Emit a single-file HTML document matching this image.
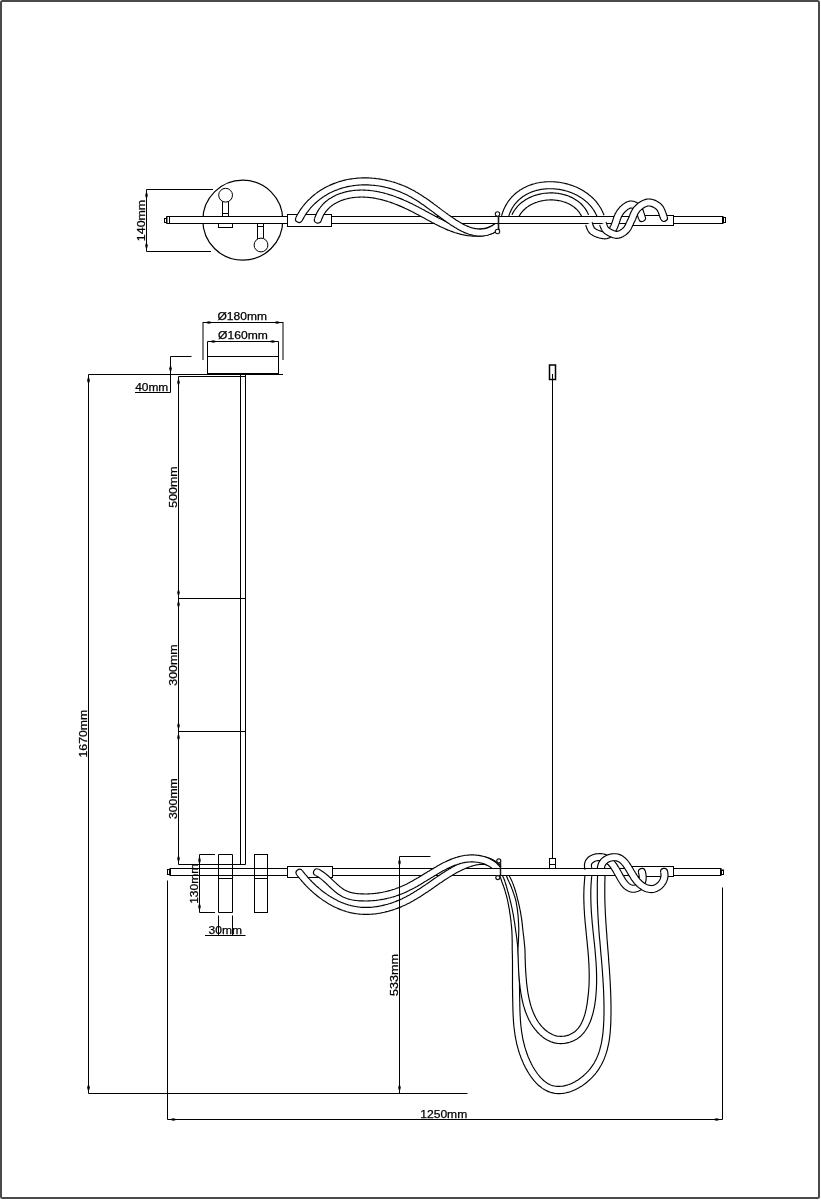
<!DOCTYPE html>
<html><head><meta charset="utf-8">
<style>
html,body{margin:0;padding:0;background:#fff;}
body{width:821px;height:1200px;overflow:hidden;}
svg{display:block;}
text{font-family:"Liberation Sans",sans-serif;font-size:11px;fill:#000;stroke:#000;stroke-width:0.25;}
svg{will-change:transform;}
.l{stroke:#000;stroke-width:1;fill:none;}
.r{stroke:#000;stroke-width:1;fill:#fff;}
.a{fill:#000;stroke:none;}
</style></head>
<body>
<svg width="821" height="1200" viewBox="0 0 821 1200">
<rect x="1" y="1" width="818" height="1197" rx="1.5" fill="none" stroke="#4a4a4a" stroke-width="2"/>

<!-- ============ TOP VIEW ============ -->
<g id="top">
  <!-- 140mm dim -->
  <path class="l" d="M146.5 189.5H213 M146.5 251.5H211 M146.5 189.5V251.5"/>
  <path class="a" d="M146.5 190.5l-1.3 5 1.3 4 1.3 -4z M146.5 250.5l-1.3 -5 1.3 -4 1.3 4z"/>
  <text transform="translate(145.4 220.5) rotate(-90)" text-anchor="middle" textLength="41.3" lengthAdjust="spacingAndGlyphs">140mm</text>

  <!-- canopy circle -->
  <circle class="l" cx="242.8" cy="220.2" r="40" style="stroke-width:1.2"/>
  <!-- top pin -->
  <rect class="r" x="222.5" y="201" width="6" height="15.5"/>
  <path class="l" d="M222.5 213.5H228.5"/>
  <circle class="r" cx="225.6" cy="195.2" r="6.9"/>
  <rect class="r" x="218.5" y="223.5" width="14" height="4"/>
  <!-- bottom pin -->
  <rect class="r" x="257.5" y="223.5" width="6" height="15"/>
  <path class="l" d="M257.5 226.5H263.5"/>
  <circle class="r" cx="261" cy="245" r="6.9"/>

  <polygon points="508.3,217.7 508.7,216.4 509.1,215.1 509.5,213.9 510.0,212.7 510.5,211.6 511.0,210.5 511.6,209.4 512.1,208.3 512.7,207.3 513.4,206.3 514.0,205.4 514.7,204.4 515.4,203.5 516.2,202.6 516.9,201.8 517.7,201.0 518.5,200.2 519.4,199.4 520.2,198.7 521.1,198.0 522.0,197.3 522.9,196.6 523.9,196.0 524.8,195.4 525.8,194.8 526.8,194.2 527.8,193.7 528.8,193.2 529.9,192.7 530.9,192.3 532.0,191.9 533.1,191.5 534.2,191.1 535.3,190.8 536.4,190.4 537.6,190.2 538.7,189.9 539.9,189.7 541.1,189.4 542.2,189.3 543.4,189.1 544.6,189.0 545.8,188.9 547.0,188.8 548.2,188.7 549.4,188.7 550.7,188.7 551.9,188.7 553.1,188.8 554.3,188.9 555.5,189.0 556.7,189.1 558.0,189.2 559.2,189.4 560.4,189.6 561.6,189.8 562.8,190.1 564.0,190.4 565.2,190.7 566.3,191.0 567.5,191.3 568.7,191.7 569.8,192.1 571.0,192.5 572.1,193.0 573.2,193.5 574.3,194.0 575.4,194.5 576.5,195.0 577.5,195.6 578.6,196.2 579.6,196.8 580.6,197.4 581.6,198.1 582.6,198.7 583.6,199.4 584.5,200.2 585.4,200.9 586.3,201.7 587.2,202.4 588.0,203.2 588.8,204.1 589.6,204.9 590.4,205.8 591.2,206.7 591.9,207.6 592.6,208.5 593.2,209.5 593.9,210.4 594.5,211.4 595.1,212.4 595.6,213.5 596.2,214.5 596.6,215.6 597.1,216.7 597.6,217.8 604.1,215.3 603.6,214.1 603.0,212.8 602.5,211.5 601.8,210.3 601.2,209.0 600.5,207.8 599.8,206.7 599.0,205.5 598.2,204.4 597.4,203.3 596.6,202.2 595.7,201.2 594.8,200.2 593.9,199.2 592.9,198.2 591.9,197.3 590.9,196.4 589.9,195.5 588.8,194.7 587.8,193.8 586.7,193.0 585.5,192.3 584.4,191.5 583.3,190.8 582.1,190.1 580.9,189.4 579.7,188.8 578.5,188.2 577.3,187.6 576.0,187.0 574.7,186.5 573.5,186.0 572.2,185.5 570.9,185.1 569.6,184.7 568.3,184.3 567.0,183.9 565.6,183.6 564.3,183.3 563.0,183.0 561.6,182.7 560.3,182.5 558.9,182.3 557.5,182.1 556.2,182.0 554.8,181.9 553.5,181.8 552.1,181.7 550.7,181.7 549.4,181.7 548.0,181.7 546.6,181.8 545.3,181.9 543.9,182.0 542.6,182.2 541.2,182.3 539.9,182.5 538.6,182.8 537.3,183.0 535.9,183.3 534.6,183.7 533.4,184.0 532.1,184.4 530.8,184.9 529.5,185.3 528.3,185.8 527.1,186.3 525.8,186.9 524.6,187.5 523.5,188.1 522.3,188.7 521.2,189.4 520.0,190.1 518.9,190.9 517.8,191.6 516.8,192.5 515.7,193.3 514.7,194.2 513.7,195.1 512.7,196.1 511.8,197.0 510.9,198.1 510.0,199.1 509.2,200.2 508.3,201.3 507.5,202.5 506.8,203.7 506.1,204.9 505.4,206.1 504.7,207.4 504.1,208.7 503.5,210.1 503.0,211.5 502.5,212.9 502.0,214.3 501.6,215.8" fill="#fff" stroke="none"/><path d="M508.3,217.7 L508.7,216.4 L509.1,215.1 L509.5,213.9 L510.0,212.7 L510.5,211.6 L511.0,210.5 L511.6,209.4 L512.1,208.3 L512.7,207.3 L513.4,206.3 L514.0,205.4 L514.7,204.4 L515.4,203.5 L516.2,202.6 L516.9,201.8 L517.7,201.0 L518.5,200.2 L519.4,199.4 L520.2,198.7 L521.1,198.0 L522.0,197.3 L522.9,196.6 L523.9,196.0 L524.8,195.4 L525.8,194.8 L526.8,194.2 L527.8,193.7 L528.8,193.2 L529.9,192.7 L530.9,192.3 L532.0,191.9 L533.1,191.5 L534.2,191.1 L535.3,190.8 L536.4,190.4 L537.6,190.2 L538.7,189.9 L539.9,189.7 L541.1,189.4 L542.2,189.3 L543.4,189.1 L544.6,189.0 L545.8,188.9 L547.0,188.8 L548.2,188.7 L549.4,188.7 L550.7,188.7 L551.9,188.7 L553.1,188.8 L554.3,188.9 L555.5,189.0 L556.7,189.1 L558.0,189.2 L559.2,189.4 L560.4,189.6 L561.6,189.8 L562.8,190.1 L564.0,190.4 L565.2,190.7 L566.3,191.0 L567.5,191.3 L568.7,191.7 L569.8,192.1 L571.0,192.5 L572.1,193.0 L573.2,193.5 L574.3,194.0 L575.4,194.5 L576.5,195.0 L577.5,195.6 L578.6,196.2 L579.6,196.8 L580.6,197.4 L581.6,198.1 L582.6,198.7 L583.6,199.4 L584.5,200.2 L585.4,200.9 L586.3,201.7 L587.2,202.4 L588.0,203.2 L588.8,204.1 L589.6,204.9 L590.4,205.8 L591.2,206.7 L591.9,207.6 L592.6,208.5 L593.2,209.5 L593.9,210.4 L594.5,211.4 L595.1,212.4 L595.6,213.5 L596.2,214.5 L596.6,215.6 L597.1,216.7 L597.6,217.8" fill="none" stroke="#000" stroke-width="1.15"/><path d="M501.6,215.8 L502.0,214.3 L502.5,212.9 L503.0,211.5 L503.5,210.1 L504.1,208.7 L504.7,207.4 L505.4,206.1 L506.1,204.9 L506.8,203.7 L507.5,202.5 L508.3,201.3 L509.2,200.2 L510.0,199.1 L510.9,198.1 L511.8,197.0 L512.7,196.1 L513.7,195.1 L514.7,194.2 L515.7,193.3 L516.8,192.5 L517.8,191.6 L518.9,190.9 L520.0,190.1 L521.2,189.4 L522.3,188.7 L523.5,188.1 L524.6,187.5 L525.8,186.9 L527.1,186.3 L528.3,185.8 L529.5,185.3 L530.8,184.9 L532.1,184.4 L533.4,184.0 L534.6,183.7 L535.9,183.3 L537.3,183.0 L538.6,182.8 L539.9,182.5 L541.2,182.3 L542.6,182.2 L543.9,182.0 L545.3,181.9 L546.6,181.8 L548.0,181.7 L549.4,181.7 L550.7,181.7 L552.1,181.7 L553.5,181.8 L554.8,181.9 L556.2,182.0 L557.5,182.1 L558.9,182.3 L560.3,182.5 L561.6,182.7 L563.0,183.0 L564.3,183.3 L565.6,183.6 L567.0,183.9 L568.3,184.3 L569.6,184.7 L570.9,185.1 L572.2,185.5 L573.5,186.0 L574.7,186.5 L576.0,187.0 L577.3,187.6 L578.5,188.2 L579.7,188.8 L580.9,189.4 L582.1,190.1 L583.3,190.8 L584.4,191.5 L585.5,192.3 L586.7,193.0 L587.8,193.8 L588.8,194.7 L589.9,195.5 L590.9,196.4 L591.9,197.3 L592.9,198.2 L593.9,199.2 L594.8,200.2 L595.7,201.2 L596.6,202.2 L597.4,203.3 L598.2,204.4 L599.0,205.5 L599.8,206.7 L600.5,207.8 L601.2,209.0 L601.8,210.3 L602.5,211.5 L603.0,212.8 L603.6,214.1 L604.1,215.3" fill="none" stroke="#000" stroke-width="1.15"/><polygon points="518.3,217.9 518.8,216.8 519.3,215.8 519.9,214.9 520.5,213.9 521.1,213.0 521.8,212.2 522.5,211.3 523.3,210.5 524.1,209.7 524.9,209.0 525.7,208.2 526.6,207.5 527.5,206.9 528.5,206.2 529.4,205.6 530.4,205.0 531.4,204.5 532.5,204.0 533.5,203.5 534.6,203.0 535.7,202.6 536.9,202.2 538.0,201.8 539.1,201.5 540.3,201.2 541.5,200.9 542.7,200.7 543.9,200.5 545.1,200.3 546.3,200.1 547.5,200.0 548.8,200.0 550.0,199.9 551.2,199.9 552.4,199.9 553.7,200.0 554.9,200.1 556.1,200.2 557.3,200.4 558.5,200.6 559.7,200.8 560.8,201.0 562.0,201.3 563.1,201.7 564.3,202.0 565.4,202.4 566.4,202.8 567.5,203.3 568.6,203.7 569.6,204.2 570.6,204.8 571.5,205.4 572.5,206.0 573.4,206.6 574.3,207.3 575.1,208.0 575.9,208.7 576.7,209.4 577.5,210.2 578.2,211.0 578.9,211.9 579.5,212.8 580.1,213.7 580.7,214.6 581.2,215.6 581.7,216.6 582.2,217.7 588.6,214.9 588.1,213.7 587.4,212.4 586.8,211.1 586.0,209.9 585.2,208.7 584.4,207.6 583.5,206.5 582.6,205.5 581.7,204.5 580.7,203.5 579.7,202.6 578.6,201.8 577.5,200.9 576.4,200.2 575.2,199.4 574.0,198.7 572.8,198.0 571.6,197.4 570.3,196.9 569.1,196.3 567.8,195.8 566.5,195.4 565.1,194.9 563.8,194.6 562.4,194.2 561.1,193.9 559.7,193.7 558.3,193.4 556.9,193.3 555.5,193.1 554.1,193.0 552.7,192.9 551.3,192.9 549.9,192.9 548.4,193.0 547.0,193.1 545.6,193.2 544.2,193.3 542.8,193.5 541.4,193.8 540.0,194.1 538.7,194.4 537.3,194.7 536.0,195.1 534.6,195.5 533.3,196.0 532.0,196.5 530.7,197.1 529.4,197.6 528.2,198.3 527.0,198.9 525.8,199.6 524.6,200.4 523.5,201.2 522.3,202.0 521.3,202.8 520.2,203.7 519.2,204.7 518.2,205.7 517.3,206.7 516.4,207.8 515.5,208.9 514.7,210.0 513.9,211.2 513.2,212.4 512.5,213.7 512.0,214.9" fill="#fff" stroke="none"/><path d="M518.3,217.9 L518.8,216.8 L519.3,215.8 L519.9,214.9 L520.5,213.9 L521.1,213.0 L521.8,212.2 L522.5,211.3 L523.3,210.5 L524.1,209.7 L524.9,209.0 L525.7,208.2 L526.6,207.5 L527.5,206.9 L528.5,206.2 L529.4,205.6 L530.4,205.0 L531.4,204.5 L532.5,204.0 L533.5,203.5 L534.6,203.0 L535.7,202.6 L536.9,202.2 L538.0,201.8 L539.1,201.5 L540.3,201.2 L541.5,200.9 L542.7,200.7 L543.9,200.5 L545.1,200.3 L546.3,200.1 L547.5,200.0 L548.8,200.0 L550.0,199.9 L551.2,199.9 L552.4,199.9 L553.7,200.0 L554.9,200.1 L556.1,200.2 L557.3,200.4 L558.5,200.6 L559.7,200.8 L560.8,201.0 L562.0,201.3 L563.1,201.7 L564.3,202.0 L565.4,202.4 L566.4,202.8 L567.5,203.3 L568.6,203.7 L569.6,204.2 L570.6,204.8 L571.5,205.4 L572.5,206.0 L573.4,206.6 L574.3,207.3 L575.1,208.0 L575.9,208.7 L576.7,209.4 L577.5,210.2 L578.2,211.0 L578.9,211.9 L579.5,212.8 L580.1,213.7 L580.7,214.6 L581.2,215.6 L581.7,216.6 L582.2,217.7" fill="none" stroke="#000" stroke-width="1.15"/><path d="M512.0,214.9 L512.5,213.7 L513.2,212.4 L513.9,211.2 L514.7,210.0 L515.5,208.9 L516.4,207.8 L517.3,206.7 L518.2,205.7 L519.2,204.7 L520.2,203.7 L521.3,202.8 L522.3,202.0 L523.5,201.2 L524.6,200.4 L525.8,199.6 L527.0,198.9 L528.2,198.3 L529.4,197.6 L530.7,197.1 L532.0,196.5 L533.3,196.0 L534.6,195.5 L536.0,195.1 L537.3,194.7 L538.7,194.4 L540.0,194.1 L541.4,193.8 L542.8,193.5 L544.2,193.3 L545.6,193.2 L547.0,193.1 L548.4,193.0 L549.9,192.9 L551.3,192.9 L552.7,192.9 L554.1,193.0 L555.5,193.1 L556.9,193.3 L558.3,193.4 L559.7,193.7 L561.1,193.9 L562.4,194.2 L563.8,194.6 L565.1,194.9 L566.5,195.4 L567.8,195.8 L569.1,196.3 L570.3,196.9 L571.6,197.4 L572.8,198.0 L574.0,198.7 L575.2,199.4 L576.4,200.2 L577.5,200.9 L578.6,201.8 L579.7,202.6 L580.7,203.5 L581.7,204.5 L582.6,205.5 L583.5,206.5 L584.4,207.6 L585.2,208.7 L586.0,209.9 L586.8,211.1 L587.4,212.4 L588.1,213.7 L588.6,214.9" fill="none" stroke="#000" stroke-width="1.15"/>
  <!-- rod -->
  <rect class="r" x="167" y="216.5" width="555.5" height="7"/>
  <path class="l" d="M166.5 216.5V223.5 M169.5 216.5V223.5 M723.5 216.5V223.5"/>
  <rect class="r" x="164.5" y="218.5" width="2" height="4"/>
  <rect class="r" x="723.5" y="217.5" width="2" height="5"/>
  <!-- mounts -->
  <rect class="r" x="287.5" y="214.5" width="44" height="12"/>
  <rect class="r" x="632.5" y="215.5" width="41" height="10"/>
  <polygon points="321.2,220.7 321.6,219.5 322.1,218.3 322.6,217.2 323.1,216.1 323.6,215.0 324.2,214.0 324.9,213.0 325.5,212.1 326.2,211.2 326.9,210.3 327.7,209.5 328.5,208.7 329.3,207.9 330.1,207.1 330.9,206.4 331.8,205.7 332.7,205.1 333.7,204.4 334.6,203.8 335.6,203.3 336.6,202.7 337.6,202.2 338.6,201.7 339.7,201.2 340.7,200.8 341.8,200.4 342.9,200.0 344.0,199.6 345.1,199.3 346.2,199.0 347.3,198.7 348.5,198.4 349.6,198.2 350.7,198.0 351.9,197.8 353.0,197.6 354.1,197.5 355.3,197.3 356.4,197.2 357.6,197.2 358.8,197.1 359.9,197.1 361.1,197.0 362.3,197.0 363.4,197.1 364.6,197.1 365.8,197.2 367.0,197.3 368.1,197.4 369.3,197.5 370.5,197.6 371.7,197.8 372.9,197.9 374.1,198.1 375.3,198.3 376.4,198.6 377.6,198.8 378.8,199.1 380.0,199.3 381.2,199.6 382.4,199.9 383.6,200.2 384.8,200.6 386.0,200.9 387.2,201.3 388.4,201.7 389.6,202.0 390.7,202.4 391.9,202.9 393.1,203.3 394.3,203.7 395.5,204.2 396.7,204.6 397.8,205.1 399.0,205.6 400.2,206.1 401.4,206.6 402.5,207.1 403.7,207.6 404.8,208.2 406.0,208.7 407.2,209.2 408.3,209.8 409.4,210.4 410.6,210.9 411.7,211.5 412.9,212.1 414.0,212.7 415.1,213.3 416.3,213.9 417.4,214.5 418.5,215.1 419.6,215.7 420.8,216.3 421.9,216.9 423.0,217.5 424.1,218.1 425.3,218.7 426.4,219.4 427.5,220.0 428.6,220.6 429.8,221.2 430.9,221.8 432.0,222.4 433.2,223.0 434.3,223.6 435.4,224.2 436.6,224.7 437.7,225.3 438.8,225.9 440.0,226.4 441.1,227.0 442.3,227.5 443.4,228.0 444.6,228.6 445.7,229.1 446.9,229.6 448.1,230.1 449.3,230.5 450.4,231.0 451.6,231.4 452.8,231.9 454.0,232.3 455.2,232.7 456.4,233.0 457.6,233.4 458.9,233.7 460.1,234.1 461.3,234.4 462.6,234.7 463.8,234.9 465.1,235.2 466.3,235.4 467.6,235.6 468.9,235.7 470.2,235.9 471.5,236.0 472.8,236.1 474.1,236.2 475.4,236.2 476.7,236.2 478.1,236.2 479.4,236.1 480.7,236.0 482.1,235.9 483.4,235.7 484.8,235.5 486.1,235.2 487.5,234.9 488.9,234.5 490.2,234.1 491.6,233.6 492.9,233.1 494.2,232.5 495.6,231.9 496.9,231.2 498.1,230.4 494.7,224.4 493.5,225.0 492.4,225.6 491.3,226.1 490.2,226.6 489.1,227.0 488.0,227.4 486.9,227.8 485.8,228.1 484.6,228.3 483.5,228.6 482.4,228.8 481.2,228.9 480.1,229.0 478.9,229.1 477.8,229.2 476.6,229.2 475.5,229.2 474.3,229.2 473.2,229.1 472.0,229.0 470.9,228.9 469.7,228.8 468.6,228.6 467.5,228.5 466.3,228.3 465.2,228.1 464.1,227.8 462.9,227.6 461.8,227.3 460.7,227.0 459.6,226.7 458.5,226.3 457.4,226.0 456.2,225.6 455.1,225.2 454.0,224.8 452.9,224.4 451.8,224.0 450.7,223.6 449.6,223.1 448.5,222.6 447.4,222.2 446.3,221.7 445.2,221.2 444.1,220.7 443.0,220.1 441.9,219.6 440.8,219.0 439.7,218.5 438.6,217.9 437.5,217.4 436.4,216.8 435.3,216.2 434.2,215.6 433.1,215.0 432.0,214.4 430.9,213.8 429.7,213.2 428.6,212.6 427.5,212.0 426.4,211.4 425.2,210.8 424.1,210.1 423.0,209.5 421.8,208.9 420.7,208.3 419.5,207.7 418.4,207.1 417.2,206.5 416.1,205.9 414.9,205.3 413.7,204.7 412.6,204.1 411.4,203.5 410.2,202.9 409.0,202.4 407.8,201.8 406.6,201.2 405.4,200.7 404.1,200.2 402.9,199.6 401.7,199.1 400.5,198.6 399.2,198.1 398.0,197.6 396.8,197.2 395.5,196.7 394.3,196.3 393.0,195.8 391.8,195.4 390.5,195.0 389.2,194.6 388.0,194.2 386.7,193.8 385.4,193.5 384.2,193.1 382.9,192.8 381.6,192.5 380.3,192.2 379.1,191.9 377.8,191.7 376.5,191.4 375.2,191.2 373.9,191.0 372.6,190.8 371.4,190.7 370.1,190.5 368.8,190.4 367.5,190.3 366.2,190.2 364.9,190.1 363.6,190.1 362.3,190.0 361.0,190.0 359.7,190.1 358.5,190.1 357.2,190.2 355.9,190.3 354.6,190.4 353.3,190.5 352.0,190.7 350.8,190.9 349.5,191.1 348.2,191.3 346.9,191.6 345.7,191.9 344.4,192.2 343.1,192.6 341.9,193.0 340.6,193.4 339.4,193.8 338.1,194.3 336.9,194.8 335.7,195.3 334.5,195.9 333.3,196.5 332.1,197.2 331.0,197.9 329.8,198.6 328.7,199.3 327.6,200.1 326.6,201.0 325.5,201.8 324.5,202.8 323.5,203.7 322.5,204.7 321.6,205.8 320.7,206.8 319.9,208.0 319.0,209.1 318.3,210.4 317.5,211.6 316.8,212.9 316.2,214.3 315.6,215.7 315.0,217.1 314.6,218.5" fill="#fff" stroke="none"/><path d="M321.2,220.7 L321.6,219.5 L322.1,218.3 L322.6,217.2 L323.1,216.1 L323.6,215.0 L324.2,214.0 L324.9,213.0 L325.5,212.1 L326.2,211.2 L326.9,210.3 L327.7,209.5 L328.5,208.7 L329.3,207.9 L330.1,207.1 L330.9,206.4 L331.8,205.7 L332.7,205.1 L333.7,204.4 L334.6,203.8 L335.6,203.3 L336.6,202.7 L337.6,202.2 L338.6,201.7 L339.7,201.2 L340.7,200.8 L341.8,200.4 L342.9,200.0 L344.0,199.6 L345.1,199.3 L346.2,199.0 L347.3,198.7 L348.5,198.4 L349.6,198.2 L350.7,198.0 L351.9,197.8 L353.0,197.6 L354.1,197.5 L355.3,197.3 L356.4,197.2 L357.6,197.2 L358.8,197.1 L359.9,197.1 L361.1,197.0 L362.3,197.0 L363.4,197.1 L364.6,197.1 L365.8,197.2 L367.0,197.3 L368.1,197.4 L369.3,197.5 L370.5,197.6 L371.7,197.8 L372.9,197.9 L374.1,198.1 L375.3,198.3 L376.4,198.6 L377.6,198.8 L378.8,199.1 L380.0,199.3 L381.2,199.6 L382.4,199.9 L383.6,200.2 L384.8,200.6 L386.0,200.9 L387.2,201.3 L388.4,201.7 L389.6,202.0 L390.7,202.4 L391.9,202.9 L393.1,203.3 L394.3,203.7 L395.5,204.2 L396.7,204.6 L397.8,205.1 L399.0,205.6 L400.2,206.1 L401.4,206.6 L402.5,207.1 L403.7,207.6 L404.8,208.2 L406.0,208.7 L407.2,209.2 L408.3,209.8 L409.4,210.4 L410.6,210.9 L411.7,211.5 L412.9,212.1 L414.0,212.7 L415.1,213.3 L416.3,213.9 L417.4,214.5 L418.5,215.1 L419.6,215.7 L420.8,216.3 L421.9,216.9 L423.0,217.5 L424.1,218.1 L425.3,218.7 L426.4,219.4 L427.5,220.0 L428.6,220.6 L429.8,221.2 L430.9,221.8 L432.0,222.4 L433.2,223.0 L434.3,223.6 L435.4,224.2 L436.6,224.7 L437.7,225.3 L438.8,225.9 L440.0,226.4 L441.1,227.0 L442.3,227.5 L443.4,228.0 L444.6,228.6 L445.7,229.1 L446.9,229.6 L448.1,230.1 L449.3,230.5 L450.4,231.0 L451.6,231.4 L452.8,231.9 L454.0,232.3 L455.2,232.7 L456.4,233.0 L457.6,233.4 L458.9,233.7 L460.1,234.1 L461.3,234.4 L462.6,234.7 L463.8,234.9 L465.1,235.2 L466.3,235.4 L467.6,235.6 L468.9,235.7 L470.2,235.9 L471.5,236.0 L472.8,236.1 L474.1,236.2 L475.4,236.2 L476.7,236.2 L478.1,236.2 L479.4,236.1 L480.7,236.0 L482.1,235.9 L483.4,235.7 L484.8,235.5 L486.1,235.2 L487.5,234.9 L488.9,234.5 L490.2,234.1 L491.6,233.6 L492.9,233.1 L494.2,232.5 L495.6,231.9 L496.9,231.2 L498.1,230.4" fill="none" stroke="#000" stroke-width="1.15"/><path d="M314.6,218.5 L315.0,217.1 L315.6,215.7 L316.2,214.3 L316.8,212.9 L317.5,211.6 L318.3,210.4 L319.0,209.1 L319.9,208.0 L320.7,206.8 L321.6,205.8 L322.5,204.7 L323.5,203.7 L324.5,202.8 L325.5,201.8 L326.6,201.0 L327.6,200.1 L328.7,199.3 L329.8,198.6 L331.0,197.9 L332.1,197.2 L333.3,196.5 L334.5,195.9 L335.7,195.3 L336.9,194.8 L338.1,194.3 L339.4,193.8 L340.6,193.4 L341.9,193.0 L343.1,192.6 L344.4,192.2 L345.7,191.9 L346.9,191.6 L348.2,191.3 L349.5,191.1 L350.8,190.9 L352.0,190.7 L353.3,190.5 L354.6,190.4 L355.9,190.3 L357.2,190.2 L358.5,190.1 L359.7,190.1 L361.0,190.0 L362.3,190.0 L363.6,190.1 L364.9,190.1 L366.2,190.2 L367.5,190.3 L368.8,190.4 L370.1,190.5 L371.4,190.7 L372.6,190.8 L373.9,191.0 L375.2,191.2 L376.5,191.4 L377.8,191.7 L379.1,191.9 L380.3,192.2 L381.6,192.5 L382.9,192.8 L384.2,193.1 L385.4,193.5 L386.7,193.8 L388.0,194.2 L389.2,194.6 L390.5,195.0 L391.8,195.4 L393.0,195.8 L394.3,196.3 L395.5,196.7 L396.8,197.2 L398.0,197.6 L399.2,198.1 L400.5,198.6 L401.7,199.1 L402.9,199.6 L404.1,200.2 L405.4,200.7 L406.6,201.2 L407.8,201.8 L409.0,202.4 L410.2,202.9 L411.4,203.5 L412.6,204.1 L413.7,204.7 L414.9,205.3 L416.1,205.9 L417.2,206.5 L418.4,207.1 L419.5,207.7 L420.7,208.3 L421.8,208.9 L423.0,209.5 L424.1,210.1 L425.2,210.8 L426.4,211.4 L427.5,212.0 L428.6,212.6 L429.7,213.2 L430.9,213.8 L432.0,214.4 L433.1,215.0 L434.2,215.6 L435.3,216.2 L436.4,216.8 L437.5,217.4 L438.6,217.9 L439.7,218.5 L440.8,219.0 L441.9,219.6 L443.0,220.1 L444.1,220.7 L445.2,221.2 L446.3,221.7 L447.4,222.2 L448.5,222.6 L449.6,223.1 L450.7,223.6 L451.8,224.0 L452.9,224.4 L454.0,224.8 L455.1,225.2 L456.2,225.6 L457.4,226.0 L458.5,226.3 L459.6,226.7 L460.7,227.0 L461.8,227.3 L462.9,227.6 L464.1,227.8 L465.2,228.1 L466.3,228.3 L467.5,228.5 L468.6,228.6 L469.7,228.8 L470.9,228.9 L472.0,229.0 L473.2,229.1 L474.3,229.2 L475.5,229.2 L476.6,229.2 L477.8,229.2 L478.9,229.1 L480.1,229.0 L481.2,228.9 L482.4,228.8 L483.5,228.6 L484.6,228.3 L485.8,228.1 L486.9,227.8 L488.0,227.4 L489.1,227.0 L490.2,226.6 L491.3,226.1 L492.4,225.6 L493.5,225.0 L494.7,224.4" fill="none" stroke="#000" stroke-width="1.15"/><path d="M321.19 220.75 A3.50 3.50 0 0 1 314.56 218.50 Z" fill="#fff" stroke="none"/><path d="M321.19 220.75 A3.50 3.50 0 0 1 314.56 218.50" fill="none" stroke="#000" stroke-width="1.15"/><polygon points="302.2,220.6 302.8,219.5 303.4,218.4 304.0,217.3 304.6,216.3 305.2,215.2 305.9,214.2 306.6,213.2 307.3,212.2 308.0,211.3 308.7,210.3 309.5,209.4 310.2,208.5 311.0,207.5 311.8,206.7 312.6,205.8 313.5,204.9 314.3,204.1 315.2,203.3 316.1,202.5 317.0,201.7 317.9,200.9 318.8,200.2 319.7,199.4 320.7,198.7 321.7,198.0 322.6,197.3 323.6,196.7 324.6,196.0 325.6,195.4 326.7,194.8 327.7,194.2 328.7,193.6 329.8,193.0 330.9,192.5 331.9,192.0 333.0,191.5 334.1,191.0 335.2,190.5 336.3,190.1 337.4,189.7 338.5,189.2 339.7,188.9 340.8,188.5 341.9,188.1 343.1,187.8 344.2,187.5 345.4,187.2 346.6,186.9 347.7,186.6 348.9,186.4 350.1,186.2 351.3,186.0 352.5,185.8 353.6,185.6 354.8,185.5 356.0,185.3 357.2,185.2 358.5,185.1 359.7,185.0 360.9,185.0 362.1,184.9 363.3,184.9 364.5,184.9 365.7,184.9 366.9,184.9 368.2,184.9 369.4,185.0 370.6,185.1 371.8,185.2 373.0,185.3 374.3,185.4 375.5,185.5 376.7,185.7 377.9,185.8 379.1,186.0 380.3,186.2 381.6,186.4 382.8,186.7 384.0,186.9 385.2,187.2 386.4,187.5 387.6,187.8 388.7,188.1 389.9,188.4 391.1,188.7 392.3,189.1 393.5,189.5 394.6,189.9 395.8,190.3 397.0,190.7 398.1,191.1 399.3,191.5 400.4,192.0 401.5,192.5 402.6,193.0 403.8,193.5 404.9,194.0 406.0,194.5 407.1,195.0 408.1,195.6 409.2,196.2 410.3,196.7 411.4,197.3 412.4,197.9 413.5,198.6 414.5,199.2 415.6,199.8 416.6,200.5 417.6,201.1 418.7,201.8 419.7,202.5 420.7,203.2 421.7,203.9 422.8,204.6 423.8,205.3 424.8,206.0 425.8,206.7 426.8,207.5 427.8,208.2 428.8,208.9 429.8,209.7 430.9,210.4 431.9,211.2 432.9,211.9 433.9,212.7 434.9,213.5 435.9,214.2 436.9,215.0 438.0,215.7 439.0,216.5 440.0,217.2 441.0,218.0 442.1,218.8 443.1,219.5 444.1,220.3 445.2,221.0 446.2,221.7 447.3,222.5 448.4,223.2 449.4,223.9 450.5,224.7 451.6,225.4 452.7,226.1 453.8,226.8 454.9,227.5 456.0,228.1 457.1,228.8 458.3,229.4 459.4,230.1 460.6,230.7 461.7,231.3 462.9,231.8 464.1,232.4 465.3,232.9 466.5,233.3 467.8,233.8 469.0,234.2 470.3,234.6 471.5,234.9 472.8,235.2 474.1,235.5 475.4,235.7 476.7,235.9 478.0,236.0 479.4,236.1 480.7,236.1 482.1,236.0 483.4,235.9 484.8,235.7 486.1,235.5 487.5,235.2 488.9,234.8 490.2,234.3 491.6,233.8 493.0,233.2 494.3,232.5 495.7,231.7 497.0,230.9 498.3,230.0 499.6,229.0 495.4,223.4 494.2,224.3 493.1,225.0 492.1,225.7 491.0,226.3 489.9,226.9 488.9,227.3 487.8,227.7 486.8,228.1 485.8,228.4 484.7,228.6 483.7,228.8 482.6,228.9 481.6,229.0 480.6,229.1 479.5,229.1 478.5,229.0 477.5,228.9 476.4,228.8 475.4,228.6 474.3,228.4 473.3,228.2 472.2,227.9 471.2,227.6 470.1,227.2 469.0,226.8 468.0,226.4 466.9,225.9 465.9,225.5 464.8,225.0 463.8,224.4 462.7,223.9 461.7,223.3 460.6,222.7 459.6,222.1 458.5,221.5 457.5,220.8 456.4,220.2 455.4,219.5 454.4,218.8 453.3,218.1 452.3,217.4 451.3,216.7 450.3,216.0 449.2,215.3 448.2,214.6 447.2,213.8 446.2,213.1 445.2,212.4 444.2,211.6 443.1,210.9 442.1,210.1 441.1,209.4 440.1,208.6 439.1,207.8 438.1,207.1 437.1,206.3 436.1,205.6 435.0,204.8 434.0,204.1 433.0,203.3 432.0,202.5 430.9,201.8 429.9,201.0 428.9,200.3 427.8,199.6 426.8,198.8 425.7,198.1 424.6,197.4 423.6,196.7 422.5,196.0 421.4,195.3 420.3,194.6 419.3,193.9 418.2,193.2 417.0,192.5 415.9,191.9 414.8,191.2 413.7,190.6 412.5,190.0 411.4,189.4 410.2,188.8 409.0,188.2 407.8,187.6 406.7,187.1 405.5,186.6 404.3,186.0 403.0,185.5 401.8,185.0 400.6,184.6 399.4,184.1 398.1,183.7 396.9,183.2 395.6,182.8 394.4,182.4 393.1,182.0 391.8,181.7 390.6,181.3 389.3,181.0 388.0,180.7 386.7,180.4 385.4,180.1 384.1,179.8 382.8,179.6 381.5,179.3 380.2,179.1 378.9,178.9 377.6,178.7 376.3,178.6 375.0,178.4 373.7,178.3 372.4,178.2 371.1,178.1 369.7,178.0 368.4,177.9 367.1,177.9 365.8,177.9 364.5,177.9 363.2,177.9 361.9,177.9 360.5,178.0 359.2,178.0 357.9,178.1 356.6,178.2 355.3,178.4 354.0,178.5 352.7,178.7 351.4,178.9 350.1,179.1 348.8,179.3 347.5,179.5 346.3,179.8 345.0,180.1 343.7,180.4 342.4,180.7 341.2,181.1 339.9,181.4 338.7,181.8 337.4,182.2 336.2,182.7 335.0,183.1 333.7,183.6 332.5,184.1 331.3,184.6 330.1,185.1 328.9,185.7 327.7,186.2 326.6,186.8 325.4,187.4 324.3,188.1 323.1,188.7 322.0,189.4 320.9,190.1 319.8,190.8 318.7,191.6 317.6,192.3 316.5,193.1 315.5,193.9 314.4,194.7 313.4,195.5 312.4,196.4 311.4,197.3 310.4,198.2 309.5,199.1 308.5,200.0 307.6,200.9 306.7,201.9 305.8,202.9 304.9,203.9 304.1,204.9 303.2,206.0 302.4,207.0 301.6,208.1 300.8,209.2 300.0,210.3 299.3,211.5 298.6,212.6 297.9,213.8 297.2,215.0 296.6,216.2 296.0,217.4" fill="#fff" stroke="none"/><path d="M302.2,220.6 L302.8,219.5 L303.4,218.4 L304.0,217.3 L304.6,216.3 L305.2,215.2 L305.9,214.2 L306.6,213.2 L307.3,212.2 L308.0,211.3 L308.7,210.3 L309.5,209.4 L310.2,208.5 L311.0,207.5 L311.8,206.7 L312.6,205.8 L313.5,204.9 L314.3,204.1 L315.2,203.3 L316.1,202.5 L317.0,201.7 L317.9,200.9 L318.8,200.2 L319.7,199.4 L320.7,198.7 L321.7,198.0 L322.6,197.3 L323.6,196.7 L324.6,196.0 L325.6,195.4 L326.7,194.8 L327.7,194.2 L328.7,193.6 L329.8,193.0 L330.9,192.5 L331.9,192.0 L333.0,191.5 L334.1,191.0 L335.2,190.5 L336.3,190.1 L337.4,189.7 L338.5,189.2 L339.7,188.9 L340.8,188.5 L341.9,188.1 L343.1,187.8 L344.2,187.5 L345.4,187.2 L346.6,186.9 L347.7,186.6 L348.9,186.4 L350.1,186.2 L351.3,186.0 L352.5,185.8 L353.6,185.6 L354.8,185.5 L356.0,185.3 L357.2,185.2 L358.5,185.1 L359.7,185.0 L360.9,185.0 L362.1,184.9 L363.3,184.9 L364.5,184.9 L365.7,184.9 L366.9,184.9 L368.2,184.9 L369.4,185.0 L370.6,185.1 L371.8,185.2 L373.0,185.3 L374.3,185.4 L375.5,185.5 L376.7,185.7 L377.9,185.8 L379.1,186.0 L380.3,186.2 L381.6,186.4 L382.8,186.7 L384.0,186.9 L385.2,187.2 L386.4,187.5 L387.6,187.8 L388.7,188.1 L389.9,188.4 L391.1,188.7 L392.3,189.1 L393.5,189.5 L394.6,189.9 L395.8,190.3 L397.0,190.7 L398.1,191.1 L399.3,191.5 L400.4,192.0 L401.5,192.5 L402.6,193.0 L403.8,193.5 L404.9,194.0 L406.0,194.5 L407.1,195.0 L408.1,195.6 L409.2,196.2 L410.3,196.7 L411.4,197.3 L412.4,197.9 L413.5,198.6 L414.5,199.2 L415.6,199.8 L416.6,200.5 L417.6,201.1 L418.7,201.8 L419.7,202.5 L420.7,203.2 L421.7,203.9 L422.8,204.6 L423.8,205.3 L424.8,206.0 L425.8,206.7 L426.8,207.5 L427.8,208.2 L428.8,208.9 L429.8,209.7 L430.9,210.4 L431.9,211.2 L432.9,211.9 L433.9,212.7 L434.9,213.5 L435.9,214.2 L436.9,215.0 L438.0,215.7 L439.0,216.5 L440.0,217.2 L441.0,218.0 L442.1,218.8 L443.1,219.5 L444.1,220.3 L445.2,221.0 L446.2,221.7 L447.3,222.5 L448.4,223.2 L449.4,223.9 L450.5,224.7 L451.6,225.4 L452.7,226.1 L453.8,226.8 L454.9,227.5 L456.0,228.1 L457.1,228.8 L458.3,229.4 L459.4,230.1 L460.6,230.7 L461.7,231.3 L462.9,231.8 L464.1,232.4 L465.3,232.9 L466.5,233.3 L467.8,233.8 L469.0,234.2 L470.3,234.6 L471.5,234.9 L472.8,235.2 L474.1,235.5 L475.4,235.7 L476.7,235.9 L478.0,236.0 L479.4,236.1 L480.7,236.1 L482.1,236.0 L483.4,235.9 L484.8,235.7 L486.1,235.5 L487.5,235.2 L488.9,234.8 L490.2,234.3 L491.6,233.8 L493.0,233.2 L494.3,232.5 L495.7,231.7 L497.0,230.9 L498.3,230.0 L499.6,229.0" fill="none" stroke="#000" stroke-width="1.15"/><path d="M296.0,217.4 L296.6,216.2 L297.2,215.0 L297.9,213.8 L298.6,212.6 L299.3,211.5 L300.0,210.3 L300.8,209.2 L301.6,208.1 L302.4,207.0 L303.2,206.0 L304.1,204.9 L304.9,203.9 L305.8,202.9 L306.7,201.9 L307.6,200.9 L308.5,200.0 L309.5,199.1 L310.4,198.2 L311.4,197.3 L312.4,196.4 L313.4,195.5 L314.4,194.7 L315.5,193.9 L316.5,193.1 L317.6,192.3 L318.7,191.6 L319.8,190.8 L320.9,190.1 L322.0,189.4 L323.1,188.7 L324.3,188.1 L325.4,187.4 L326.6,186.8 L327.7,186.2 L328.9,185.7 L330.1,185.1 L331.3,184.6 L332.5,184.1 L333.7,183.6 L335.0,183.1 L336.2,182.7 L337.4,182.2 L338.7,181.8 L339.9,181.4 L341.2,181.1 L342.4,180.7 L343.7,180.4 L345.0,180.1 L346.3,179.8 L347.5,179.5 L348.8,179.3 L350.1,179.1 L351.4,178.9 L352.7,178.7 L354.0,178.5 L355.3,178.4 L356.6,178.2 L357.9,178.1 L359.2,178.0 L360.5,178.0 L361.9,177.9 L363.2,177.9 L364.5,177.9 L365.8,177.9 L367.1,177.9 L368.4,177.9 L369.7,178.0 L371.1,178.1 L372.4,178.2 L373.7,178.3 L375.0,178.4 L376.3,178.6 L377.6,178.7 L378.9,178.9 L380.2,179.1 L381.5,179.3 L382.8,179.6 L384.1,179.8 L385.4,180.1 L386.7,180.4 L388.0,180.7 L389.3,181.0 L390.6,181.3 L391.8,181.7 L393.1,182.0 L394.4,182.4 L395.6,182.8 L396.9,183.2 L398.1,183.7 L399.4,184.1 L400.6,184.6 L401.8,185.0 L403.0,185.5 L404.3,186.0 L405.5,186.6 L406.7,187.1 L407.8,187.6 L409.0,188.2 L410.2,188.8 L411.4,189.4 L412.5,190.0 L413.7,190.6 L414.8,191.2 L415.9,191.9 L417.0,192.5 L418.2,193.2 L419.3,193.9 L420.3,194.6 L421.4,195.3 L422.5,196.0 L423.6,196.7 L424.6,197.4 L425.7,198.1 L426.8,198.8 L427.8,199.6 L428.9,200.3 L429.9,201.0 L430.9,201.8 L432.0,202.5 L433.0,203.3 L434.0,204.1 L435.0,204.8 L436.1,205.6 L437.1,206.3 L438.1,207.1 L439.1,207.8 L440.1,208.6 L441.1,209.4 L442.1,210.1 L443.1,210.9 L444.2,211.6 L445.2,212.4 L446.2,213.1 L447.2,213.8 L448.2,214.6 L449.2,215.3 L450.3,216.0 L451.3,216.7 L452.3,217.4 L453.3,218.1 L454.4,218.8 L455.4,219.5 L456.4,220.2 L457.5,220.8 L458.5,221.5 L459.6,222.1 L460.6,222.7 L461.7,223.3 L462.7,223.9 L463.8,224.4 L464.8,225.0 L465.9,225.5 L466.9,225.9 L468.0,226.4 L469.0,226.8 L470.1,227.2 L471.2,227.6 L472.2,227.9 L473.3,228.2 L474.3,228.4 L475.4,228.6 L476.4,228.8 L477.5,228.9 L478.5,229.0 L479.5,229.1 L480.6,229.1 L481.6,229.0 L482.6,228.9 L483.7,228.8 L484.7,228.6 L485.8,228.4 L486.8,228.1 L487.8,227.7 L488.9,227.3 L489.9,226.9 L491.0,226.3 L492.1,225.7 L493.1,225.0 L494.2,224.3 L495.4,223.4" fill="none" stroke="#000" stroke-width="1.15"/><path d="M302.19 220.59 A3.50 3.50 0 0 1 295.96 217.40 Z" fill="#fff" stroke="none"/><path d="M302.19 220.59 A3.50 3.50 0 0 1 295.96 217.40" fill="none" stroke="#000" stroke-width="1.15"/><rect x="484" y="217" width="30" height="6" fill="#fff"/><path d="M484 216.5H514 M484 223.5H514" stroke="#000" stroke-width="1" fill="none"/><polygon points="585.6,224.9 585.7,225.1 585.8,225.3 585.9,225.6 586.0,226.0 586.2,226.5 586.4,227.1 586.6,227.6 586.8,228.3 587.1,228.9 587.3,229.6 587.7,230.3 588.1,231.0 588.5,231.6 589.0,232.3 589.5,233.0 590.2,233.6 590.8,234.1 591.5,234.6 592.2,235.0 592.8,235.4 593.6,235.8 594.3,236.2 595.0,236.5 595.8,236.8 596.5,237.1 597.2,237.3 598.0,237.6 598.7,237.8 599.4,238.0 600.1,238.2 600.7,238.3 601.4,238.4 602.0,238.5 602.6,238.6 603.2,238.7 603.8,238.7 604.4,238.8 605.0,238.8 605.6,238.7 606.2,238.7 606.8,238.6 607.4,238.4 608.0,238.3 608.6,238.1 609.2,237.8 609.8,237.6 610.4,237.3 610.9,236.9 611.5,236.5 612.0,236.1 612.5,235.6 613.0,235.2 613.4,234.7 613.8,234.2 614.2,233.7 614.6,233.1 614.9,232.6 615.2,232.1 615.6,231.5 615.9,230.9 616.2,230.4 616.5,229.8 616.8,229.2 617.1,228.5 617.5,227.8 617.8,227.0 618.1,226.2 618.4,225.4 618.7,224.6 619.0,223.8 619.3,222.9 619.5,222.1 619.8,221.3 620.1,220.5 620.3,219.7 620.6,219.0 620.9,218.3 621.1,217.7 621.4,217.1 621.6,216.6 621.9,216.1 622.2,215.6 622.4,215.2 622.7,214.7 623.0,214.3 623.3,213.9 623.5,213.5 623.8,213.2 624.1,212.8 624.4,212.5 624.7,212.2 625.0,211.8 625.3,211.5 625.6,211.2 625.9,211.0 626.3,210.7 626.6,210.4 627.0,210.1 627.3,209.8 627.7,209.6 628.0,209.3 628.4,209.1 628.7,208.9 629.1,208.7 629.4,208.5 629.7,208.3 630.0,208.2 630.3,208.1 630.5,208.1 630.7,208.0 630.9,208.0 631.0,208.0 631.2,208.0 631.5,208.0 631.7,208.1 632.0,208.1 632.3,208.2 632.6,208.3 632.9,208.4 633.2,208.6 633.5,208.7 633.8,208.9 634.0,209.1 634.3,209.3 634.6,209.5 634.8,209.7 635.1,210.0 635.3,210.2 635.4,210.4 635.6,210.7 635.9,211.2 636.1,211.7 636.4,212.3 636.6,213.0 636.9,213.6 637.1,214.4 637.4,215.1 637.6,215.8 637.8,216.4 638.0,217.1 638.2,217.7 638.4,218.3 638.6,218.8 638.7,219.2 645.3,216.8 645.2,216.5 645.0,216.1 644.9,215.6 644.7,215.0 644.5,214.3 644.3,213.6 644.0,212.9 643.7,212.1 643.5,211.3 643.2,210.5 642.8,209.6 642.5,208.8 642.1,208.1 641.7,207.3 641.3,206.5 640.7,205.8 640.2,205.2 639.7,204.7 639.2,204.2 638.6,203.7 638.0,203.3 637.4,202.9 636.8,202.6 636.2,202.3 635.6,202.0 634.9,201.7 634.3,201.5 633.7,201.3 633.0,201.2 632.3,201.1 631.7,201.0 631.0,201.0 630.3,201.0 629.5,201.1 628.8,201.3 628.2,201.5 627.5,201.7 626.9,201.9 626.3,202.2 625.7,202.5 625.2,202.8 624.6,203.2 624.1,203.5 623.6,203.9 623.1,204.2 622.6,204.6 622.2,205.0 621.7,205.3 621.3,205.7 620.9,206.1 620.4,206.5 620.0,206.9 619.6,207.4 619.2,207.8 618.8,208.3 618.4,208.8 618.0,209.3 617.6,209.8 617.2,210.4 616.8,210.9 616.5,211.5 616.1,212.1 615.8,212.7 615.4,213.4 615.0,214.1 614.7,214.9 614.3,215.7 614.0,216.6 613.7,217.4 613.4,218.2 613.2,219.1 612.9,219.9 612.6,220.7 612.4,221.5 612.1,222.3 611.8,223.1 611.6,223.7 611.3,224.4 611.1,224.9 610.9,225.5 610.6,226.0 610.3,226.5 610.0,227.1 609.8,227.5 609.5,228.0 609.3,228.4 609.0,228.9 608.8,229.2 608.5,229.6 608.3,229.9 608.1,230.2 607.8,230.4 607.6,230.6 607.4,230.8 607.2,231.0 607.1,231.1 606.9,231.2 606.7,231.3 606.5,231.4 606.2,231.5 606.0,231.6 605.8,231.6 605.6,231.7 605.3,231.7 605.1,231.7 604.8,231.8 604.5,231.8 604.2,231.7 603.8,231.7 603.4,231.7 603.0,231.6 602.6,231.6 602.2,231.5 601.7,231.4 601.2,231.2 600.7,231.1 600.1,230.9 599.5,230.7 598.9,230.5 598.3,230.3 597.8,230.0 597.2,229.8 596.7,229.5 596.2,229.3 595.8,229.0 595.4,228.8 595.1,228.6 594.8,228.4 594.7,228.2 594.5,228.0 594.3,227.8 594.1,227.4 593.9,227.1 593.7,226.6 593.5,226.2 593.3,225.7 593.1,225.3 593.0,224.8 592.8,224.3 592.6,223.8 592.5,223.4 592.3,222.9 592.2,222.4 592.0,222.1" fill="#fff" stroke="none"/><path d="M585.6,224.9 L585.7,225.1 L585.8,225.3 L585.9,225.6 L586.0,226.0 L586.2,226.5 L586.4,227.1 L586.6,227.6 L586.8,228.3 L587.1,228.9 L587.3,229.6 L587.7,230.3 L588.1,231.0 L588.5,231.6 L589.0,232.3 L589.5,233.0 L590.2,233.6 L590.8,234.1 L591.5,234.6 L592.2,235.0 L592.8,235.4 L593.6,235.8 L594.3,236.2 L595.0,236.5 L595.8,236.8 L596.5,237.1 L597.2,237.3 L598.0,237.6 L598.7,237.8 L599.4,238.0 L600.1,238.2 L600.7,238.3 L601.4,238.4 L602.0,238.5 L602.6,238.6 L603.2,238.7 L603.8,238.7 L604.4,238.8 L605.0,238.8 L605.6,238.7 L606.2,238.7 L606.8,238.6 L607.4,238.4 L608.0,238.3 L608.6,238.1 L609.2,237.8 L609.8,237.6 L610.4,237.3 L610.9,236.9 L611.5,236.5 L612.0,236.1 L612.5,235.6 L613.0,235.2 L613.4,234.7 L613.8,234.2 L614.2,233.7 L614.6,233.1 L614.9,232.6 L615.2,232.1 L615.6,231.5 L615.9,230.9 L616.2,230.4 L616.5,229.8 L616.8,229.2 L617.1,228.5 L617.5,227.8 L617.8,227.0 L618.1,226.2 L618.4,225.4 L618.7,224.6 L619.0,223.8 L619.3,222.9 L619.5,222.1 L619.8,221.3 L620.1,220.5 L620.3,219.7 L620.6,219.0 L620.9,218.3 L621.1,217.7 L621.4,217.1 L621.6,216.6 L621.9,216.1 L622.2,215.6 L622.4,215.2 L622.7,214.7 L623.0,214.3 L623.3,213.9 L623.5,213.5 L623.8,213.2 L624.1,212.8 L624.4,212.5 L624.7,212.2 L625.0,211.8 L625.3,211.5 L625.6,211.2 L625.9,211.0 L626.3,210.7 L626.6,210.4 L627.0,210.1 L627.3,209.8 L627.7,209.6 L628.0,209.3 L628.4,209.1 L628.7,208.9 L629.1,208.7 L629.4,208.5 L629.7,208.3 L630.0,208.2 L630.3,208.1 L630.5,208.1 L630.7,208.0 L630.9,208.0 L631.0,208.0 L631.2,208.0 L631.5,208.0 L631.7,208.1 L632.0,208.1 L632.3,208.2 L632.6,208.3 L632.9,208.4 L633.2,208.6 L633.5,208.7 L633.8,208.9 L634.0,209.1 L634.3,209.3 L634.6,209.5 L634.8,209.7 L635.1,210.0 L635.3,210.2 L635.4,210.4 L635.6,210.7 L635.9,211.2 L636.1,211.7 L636.4,212.3 L636.6,213.0 L636.9,213.6 L637.1,214.4 L637.4,215.1 L637.6,215.8 L637.8,216.4 L638.0,217.1 L638.2,217.7 L638.4,218.3 L638.6,218.8 L638.7,219.2" fill="none" stroke="#000" stroke-width="1.15"/><path d="M592.0,222.1 L592.2,222.4 L592.3,222.9 L592.5,223.4 L592.6,223.8 L592.8,224.3 L593.0,224.8 L593.1,225.3 L593.3,225.7 L593.5,226.2 L593.7,226.6 L593.9,227.1 L594.1,227.4 L594.3,227.8 L594.5,228.0 L594.7,228.2 L594.8,228.4 L595.1,228.6 L595.4,228.8 L595.8,229.0 L596.2,229.3 L596.7,229.5 L597.2,229.8 L597.8,230.0 L598.3,230.3 L598.9,230.5 L599.5,230.7 L600.1,230.9 L600.7,231.1 L601.2,231.2 L601.7,231.4 L602.2,231.5 L602.6,231.6 L603.0,231.6 L603.4,231.7 L603.8,231.7 L604.2,231.7 L604.5,231.8 L604.8,231.8 L605.1,231.7 L605.3,231.7 L605.6,231.7 L605.8,231.6 L606.0,231.6 L606.2,231.5 L606.5,231.4 L606.7,231.3 L606.9,231.2 L607.1,231.1 L607.2,231.0 L607.4,230.8 L607.6,230.6 L607.8,230.4 L608.1,230.2 L608.3,229.9 L608.5,229.6 L608.8,229.2 L609.0,228.9 L609.3,228.4 L609.5,228.0 L609.8,227.5 L610.0,227.1 L610.3,226.5 L610.6,226.0 L610.9,225.5 L611.1,224.9 L611.3,224.4 L611.6,223.7 L611.8,223.1 L612.1,222.3 L612.4,221.5 L612.6,220.7 L612.9,219.9 L613.2,219.1 L613.4,218.2 L613.7,217.4 L614.0,216.6 L614.3,215.7 L614.7,214.9 L615.0,214.1 L615.4,213.4 L615.8,212.7 L616.1,212.1 L616.5,211.5 L616.8,210.9 L617.2,210.4 L617.6,209.8 L618.0,209.3 L618.4,208.8 L618.8,208.3 L619.2,207.8 L619.6,207.4 L620.0,206.9 L620.4,206.5 L620.9,206.1 L621.3,205.7 L621.7,205.3 L622.2,205.0 L622.6,204.6 L623.1,204.2 L623.6,203.9 L624.1,203.5 L624.6,203.2 L625.2,202.8 L625.7,202.5 L626.3,202.2 L626.9,201.9 L627.5,201.7 L628.2,201.5 L628.8,201.3 L629.5,201.1 L630.3,201.0 L631.0,201.0 L631.7,201.0 L632.3,201.1 L633.0,201.2 L633.7,201.3 L634.3,201.5 L634.9,201.7 L635.6,202.0 L636.2,202.3 L636.8,202.6 L637.4,202.9 L638.0,203.3 L638.6,203.7 L639.2,204.2 L639.7,204.7 L640.2,205.2 L640.7,205.8 L641.3,206.5 L641.7,207.3 L642.1,208.1 L642.5,208.8 L642.8,209.6 L643.2,210.5 L643.5,211.3 L643.7,212.1 L644.0,212.9 L644.3,213.6 L644.5,214.3 L644.7,215.0 L644.9,215.6 L645.0,216.1 L645.2,216.5 L645.3,216.8" fill="none" stroke="#000" stroke-width="1.15"/><path d="M638.72 219.22 A3.50 3.50 0 0 0 645.28 216.78 Z" fill="#fff" stroke="none"/><path d="M638.72 219.22 A3.50 3.50 0 0 0 645.28 216.78" fill="none" stroke="#000" stroke-width="1.15"/><polygon points="599.6,225.0 599.7,225.2 599.8,225.3 599.9,225.6 600.0,226.0 600.2,226.4 600.4,227.0 600.6,227.5 600.8,228.1 601.1,228.7 601.4,229.3 601.8,230.0 602.2,230.7 602.6,231.3 603.1,232.0 603.7,232.6 604.4,233.2 605.0,233.7 605.6,234.1 606.3,234.6 607.0,235.0 607.7,235.4 608.5,235.8 609.2,236.2 610.0,236.6 610.9,236.9 611.7,237.3 612.6,237.6 613.4,237.8 614.3,238.0 615.2,238.2 616.1,238.3 617.1,238.3 618.0,238.2 618.9,238.1 619.7,237.9 620.6,237.7 621.4,237.4 622.1,237.0 622.9,236.7 623.6,236.3 624.3,235.8 625.0,235.4 625.6,234.9 626.2,234.5 626.8,234.0 627.4,233.5 627.9,233.0 628.5,232.5 629.0,231.9 629.5,231.3 630.0,230.6 630.5,230.0 630.8,229.4 631.2,228.7 631.5,228.1 631.8,227.5 632.1,226.8 632.4,226.2 632.7,225.6 633.0,225.0 633.2,224.4 633.5,223.8 633.8,223.2 634.1,222.6 634.5,221.8 634.9,221.0 635.2,220.2 635.6,219.4 635.9,218.6 636.2,217.8 636.5,217.0 636.8,216.2 637.2,215.4 637.5,214.7 637.8,214.0 638.2,213.4 638.5,212.8 638.9,212.3 639.2,211.8 639.6,211.3 640.0,210.9 640.5,210.4 641.1,209.9 641.6,209.4 642.2,209.0 642.8,208.5 643.4,208.1 644.0,207.7 644.6,207.3 645.2,207.0 645.8,206.7 646.4,206.5 646.9,206.3 647.5,206.1 647.9,206.0 648.3,206.0 648.7,206.0 649.2,206.0 649.7,206.0 650.2,206.1 650.7,206.3 651.3,206.4 651.9,206.6 652.5,206.9 653.1,207.1 653.7,207.4 654.2,207.8 654.8,208.1 655.3,208.4 655.7,208.8 656.2,209.2 656.5,209.5 656.8,209.8 657.1,210.1 657.4,210.6 657.7,211.2 658.0,211.8 658.3,212.5 658.6,213.2 658.9,214.0 659.2,214.8 659.4,215.5 659.7,216.3 659.9,217.0 660.1,217.6 660.4,218.3 660.6,218.9 660.8,219.3 667.2,216.7 667.1,216.3 667.0,215.9 666.8,215.4 666.6,214.8 666.3,214.1 666.1,213.3 665.8,212.4 665.5,211.6 665.1,210.7 664.8,209.8 664.3,208.8 663.9,207.9 663.4,207.0 662.8,206.1 662.2,205.3 661.5,204.5 660.8,203.9 660.1,203.3 659.4,202.8 658.6,202.2 657.8,201.7 657.0,201.3 656.1,200.8 655.3,200.4 654.4,200.1 653.5,199.8 652.5,199.5 651.6,199.3 650.6,199.1 649.7,199.0 648.7,199.0 647.7,199.0 646.7,199.1 645.7,199.4 644.8,199.6 643.9,200.0 643.0,200.3 642.1,200.8 641.2,201.2 640.3,201.7 639.5,202.3 638.7,202.8 637.9,203.4 637.2,204.0 636.4,204.7 635.7,205.3 635.1,206.0 634.4,206.7 633.7,207.4 633.1,208.3 632.6,209.1 632.1,210.0 631.6,210.9 631.2,211.7 630.8,212.6 630.4,213.5 630.0,214.3 629.7,215.2 629.4,216.0 629.1,216.8 628.8,217.5 628.5,218.2 628.2,218.8 627.9,219.4 627.5,220.1 627.2,220.8 626.9,221.5 626.6,222.1 626.3,222.7 626.0,223.3 625.8,223.9 625.5,224.4 625.3,224.9 625.0,225.4 624.8,225.8 624.6,226.2 624.3,226.6 624.1,226.9 623.8,227.2 623.5,227.5 623.2,227.9 622.8,228.2 622.3,228.6 621.9,229.0 621.5,229.3 621.0,229.6 620.5,229.9 620.1,230.2 619.6,230.5 619.2,230.7 618.7,230.9 618.3,231.0 617.9,231.1 617.6,231.2 617.2,231.3 616.9,231.3 616.6,231.3 616.2,231.3 615.8,231.2 615.2,231.0 614.7,230.9 614.1,230.7 613.5,230.5 612.9,230.2 612.3,229.9 611.7,229.6 611.1,229.3 610.6,229.0 610.0,228.7 609.6,228.3 609.1,228.0 608.8,227.8 608.6,227.6 608.4,227.4 608.2,227.2 608.0,226.9 607.8,226.6 607.6,226.2 607.5,225.8 607.3,225.4 607.1,224.9 606.9,224.5 606.8,224.1 606.6,223.6 606.5,223.2 606.3,222.8 606.1,222.3 606.0,222.0" fill="#fff" stroke="none"/><path d="M599.6,225.0 L599.7,225.2 L599.8,225.3 L599.9,225.6 L600.0,226.0 L600.2,226.4 L600.4,227.0 L600.6,227.5 L600.8,228.1 L601.1,228.7 L601.4,229.3 L601.8,230.0 L602.2,230.7 L602.6,231.3 L603.1,232.0 L603.7,232.6 L604.4,233.2 L605.0,233.7 L605.6,234.1 L606.3,234.6 L607.0,235.0 L607.7,235.4 L608.5,235.8 L609.2,236.2 L610.0,236.6 L610.9,236.9 L611.7,237.3 L612.6,237.6 L613.4,237.8 L614.3,238.0 L615.2,238.2 L616.1,238.3 L617.1,238.3 L618.0,238.2 L618.9,238.1 L619.7,237.9 L620.6,237.7 L621.4,237.4 L622.1,237.0 L622.9,236.7 L623.6,236.3 L624.3,235.8 L625.0,235.4 L625.6,234.9 L626.2,234.5 L626.8,234.0 L627.4,233.5 L627.9,233.0 L628.5,232.5 L629.0,231.9 L629.5,231.3 L630.0,230.6 L630.5,230.0 L630.8,229.4 L631.2,228.7 L631.5,228.1 L631.8,227.5 L632.1,226.8 L632.4,226.2 L632.7,225.6 L633.0,225.0 L633.2,224.4 L633.5,223.8 L633.8,223.2 L634.1,222.6 L634.5,221.8 L634.9,221.0 L635.2,220.2 L635.6,219.4 L635.9,218.6 L636.2,217.8 L636.5,217.0 L636.8,216.2 L637.2,215.4 L637.5,214.7 L637.8,214.0 L638.2,213.4 L638.5,212.8 L638.9,212.3 L639.2,211.8 L639.6,211.3 L640.0,210.9 L640.5,210.4 L641.1,209.9 L641.6,209.4 L642.2,209.0 L642.8,208.5 L643.4,208.1 L644.0,207.7 L644.6,207.3 L645.2,207.0 L645.8,206.7 L646.4,206.5 L646.9,206.3 L647.5,206.1 L647.9,206.0 L648.3,206.0 L648.7,206.0 L649.2,206.0 L649.7,206.0 L650.2,206.1 L650.7,206.3 L651.3,206.4 L651.9,206.6 L652.5,206.9 L653.1,207.1 L653.7,207.4 L654.2,207.8 L654.8,208.1 L655.3,208.4 L655.7,208.8 L656.2,209.2 L656.5,209.5 L656.8,209.8 L657.1,210.1 L657.4,210.6 L657.7,211.2 L658.0,211.8 L658.3,212.5 L658.6,213.2 L658.9,214.0 L659.2,214.8 L659.4,215.5 L659.7,216.3 L659.9,217.0 L660.1,217.6 L660.4,218.3 L660.6,218.9 L660.8,219.3" fill="none" stroke="#000" stroke-width="1.15"/><path d="M606.0,222.0 L606.1,222.3 L606.3,222.8 L606.5,223.2 L606.6,223.6 L606.8,224.1 L606.9,224.5 L607.1,224.9 L607.3,225.4 L607.5,225.8 L607.6,226.2 L607.8,226.6 L608.0,226.9 L608.2,227.2 L608.4,227.4 L608.6,227.6 L608.8,227.8 L609.1,228.0 L609.6,228.3 L610.0,228.7 L610.6,229.0 L611.1,229.3 L611.7,229.6 L612.3,229.9 L612.9,230.2 L613.5,230.5 L614.1,230.7 L614.7,230.9 L615.2,231.0 L615.8,231.2 L616.2,231.3 L616.6,231.3 L616.9,231.3 L617.2,231.3 L617.6,231.2 L617.9,231.1 L618.3,231.0 L618.7,230.9 L619.2,230.7 L619.6,230.5 L620.1,230.2 L620.5,229.9 L621.0,229.6 L621.5,229.3 L621.9,229.0 L622.3,228.6 L622.8,228.2 L623.2,227.9 L623.5,227.5 L623.8,227.2 L624.1,226.9 L624.3,226.6 L624.6,226.2 L624.8,225.8 L625.0,225.4 L625.3,224.9 L625.5,224.4 L625.8,223.9 L626.0,223.3 L626.3,222.7 L626.6,222.1 L626.9,221.5 L627.2,220.8 L627.5,220.1 L627.9,219.4 L628.2,218.8 L628.5,218.2 L628.8,217.5 L629.1,216.8 L629.4,216.0 L629.7,215.2 L630.0,214.3 L630.4,213.5 L630.8,212.6 L631.2,211.7 L631.6,210.9 L632.1,210.0 L632.6,209.1 L633.1,208.3 L633.7,207.4 L634.4,206.7 L635.1,206.0 L635.7,205.3 L636.4,204.7 L637.2,204.0 L637.9,203.4 L638.7,202.8 L639.5,202.3 L640.3,201.7 L641.2,201.2 L642.1,200.8 L643.0,200.3 L643.9,200.0 L644.8,199.6 L645.7,199.4 L646.7,199.1 L647.7,199.0 L648.7,199.0 L649.7,199.0 L650.6,199.1 L651.6,199.3 L652.5,199.5 L653.5,199.8 L654.4,200.1 L655.3,200.4 L656.1,200.8 L657.0,201.3 L657.8,201.7 L658.6,202.2 L659.4,202.8 L660.1,203.3 L660.8,203.9 L661.5,204.5 L662.2,205.3 L662.8,206.1 L663.4,207.0 L663.9,207.9 L664.3,208.8 L664.8,209.8 L665.1,210.7 L665.5,211.6 L665.8,212.4 L666.1,213.3 L666.3,214.1 L666.6,214.8 L666.8,215.4 L667.0,215.9 L667.1,216.3 L667.2,216.7" fill="none" stroke="#000" stroke-width="1.15"/><path d="M660.77 219.34 A3.50 3.50 0 0 0 667.23 216.66 Z" fill="#fff" stroke="none"/><path d="M660.77 219.34 A3.50 3.50 0 0 0 667.23 216.66" fill="none" stroke="#000" stroke-width="1.15"/><path d="M498.5 215.5 V232" fill="none" stroke="#151515" stroke-width="1.6"/><circle cx="497.5" cy="214" r="2.2" fill="#fff" stroke="#151515" stroke-width="1.1"/><circle cx="497.5" cy="231.5" r="2.2" fill="#fff" stroke="#151515" stroke-width="1.1"/>
</g>

<!-- ============ FRONT VIEW ============ -->
<g id="front">
  <!-- diameters -->
  <text x="217.5" y="319.7" textLength="49.4" lengthAdjust="spacingAndGlyphs">Ø180mm</text>
  <path class="l" d="M203 322.5H283 M203 322V360 M283 322V360"/>
  <path class="a" d="M204 322.5l5 -1.3 4 1.3 -4 1.3z M282 322.5l-5 -1.3 -4 1.3 4 1.3z"/>
  <text x="218.1" y="339" textLength="49.7" lengthAdjust="spacingAndGlyphs">Ø160mm</text>
  <path class="l" d="M207.5 341.5H278.5 M207.5 341.5V356.5 M278.5 341.5V356.5"/>
  <path class="a" d="M208.5 341.5l5 -1.3 4 1.3 -4 1.3z M277.5 341.5l-5 -1.3 -4 1.3 4 1.3z"/>
  <rect class="r" x="207.5" y="356.5" width="71" height="17"/>
  <path class="l" d="M88.5 374.5H283"/>

  <!-- 40mm -->
  <path class="l" d="M170.5 356.5H191.5 M170.5 356.5V392.5 M135 392.5H170.5"/>
  <path class="a" d="M170.5 373.5l-1.3 -5 1.3 -4 1.3 4z"/>
  <text x="135.2" y="390.9" textLength="33.1" lengthAdjust="spacingAndGlyphs">40mm</text>

  <!-- box -->
  <path class="l" d="M178.5 376.5H245.5 M178.5 376.5V864.5 M178.5 598.5H245.5 M178.5 731.5H245.5 M178.5 864.5H245.5"/>
  <path class="l" d="M240.5 374.5V864.5 M245.5 374.5V864.5"/>
  <path class="a" d="M178.5 377.5l-1.3 5 1.3 4 1.3 -4z M178.5 597.5l-1.3 -5 1.3 -4 1.3 4z M178.5 599.5l-1.3 5 1.3 4 1.3 -4z M178.5 730.5l-1.3 -5 1.3 -4 1.3 4z M178.5 732.5l-1.3 5 1.3 4 1.3 -4z M178.5 863.5l-1.3 -5 1.3 -4 1.3 4z"/>
  <text transform="translate(176.6 487.1) rotate(-90)" text-anchor="middle" textLength="41.2" lengthAdjust="spacingAndGlyphs">500mm</text>
  <text transform="translate(176.6 665.1) rotate(-90)" text-anchor="middle" textLength="41.2" lengthAdjust="spacingAndGlyphs">300mm</text>
  <text transform="translate(176.6 798.6) rotate(-90)" text-anchor="middle" textLength="40.8" lengthAdjust="spacingAndGlyphs">300mm</text>

  <!-- 1670 -->
  <path class="l" d="M88.5 374.5V1093.5 M88.5 1093.5H467.5"/>
  <path class="a" d="M88.5 375.5l-1.4 5 1.4 4 1.4 -4z M88.5 1092.5l-1.4 -5 1.4 -4 1.4 4z"/>
  <text transform="translate(86.7 733.7) rotate(-90)" text-anchor="middle" textLength="47.5" lengthAdjust="spacingAndGlyphs">1670mm</text>

  <!-- suspension -->
  <rect class="r" x="549.5" y="365" width="6" height="14.5" style="stroke-width:1.5"/>
  <path class="l" d="M552.5 374V858.5"/>
  <rect class="r" x="549.5" y="858.5" width="6" height="10"/>
  <path class="l" d="M549.5 864.5H555.5"/>

  <polygon points="499.8,875.7 500.3,876.9 500.7,878.1 501.1,879.3 501.5,880.5 501.8,881.7 502.3,882.9 502.7,884.0 503.2,885.2 503.6,886.4 504.0,887.5 504.4,888.7 504.8,889.9 505.1,891.1 505.5,892.3 505.8,893.5 506.1,894.7 506.5,895.9 506.8,897.1 507.1,898.3 507.4,899.5 507.6,900.7 507.9,901.9 508.1,903.1 508.4,904.3 508.6,905.5 508.8,906.8 509.0,908.0 509.3,909.2 509.5,910.4 509.6,911.6 509.8,912.9 510.0,914.1 510.2,915.3 510.4,916.5 510.5,917.8 510.7,919.0 510.8,920.2 511.0,921.5 511.1,922.7 511.2,923.9 511.4,925.2 511.5,926.4 511.6,927.6 511.7,928.9 511.8,930.1 511.9,931.3 511.9,932.6 512.0,933.8 512.0,935.1 512.1,936.3 512.1,937.6 512.1,938.8 512.2,940.1 512.2,941.3 512.2,942.6 512.2,943.8 512.2,945.0 512.2,946.3 512.2,947.5 512.2,948.8 512.2,950.0 512.3,951.3 512.3,952.5 512.3,953.8 512.4,955.0 512.4,956.3 512.4,957.5 512.4,958.8 512.5,960.0 512.5,961.3 512.5,962.5 512.5,963.8 512.5,965.1 512.5,966.3 512.5,967.6 512.5,968.8 512.5,970.1 512.5,971.3 512.5,972.6 512.5,973.8 512.5,975.1 512.5,976.3 512.5,977.6 512.5,978.9 512.5,980.1 512.5,981.4 512.5,982.6 512.5,983.9 512.5,985.1 512.5,986.4 512.5,987.7 512.5,988.9 512.6,990.2 512.6,991.4 512.6,992.7 512.6,993.9 512.6,995.2 512.6,996.4 512.7,997.7 512.7,999.0 512.7,1000.2 512.7,1001.5 512.8,1002.7 512.8,1004.0 512.8,1005.2 512.8,1006.5 512.9,1007.7 512.9,1009.0 512.9,1010.3 513.0,1011.5 513.0,1012.8 513.1,1014.0 513.1,1015.3 513.2,1016.6 513.3,1017.8 513.4,1019.1 513.4,1020.3 513.5,1021.6 513.6,1022.9 513.7,1024.1 513.8,1025.4 514.0,1026.7 514.1,1027.9 514.3,1029.2 514.4,1030.5 514.6,1031.8 514.8,1033.0 514.9,1034.3 515.1,1035.6 515.4,1036.9 515.6,1038.1 515.8,1039.4 516.1,1040.7 516.4,1042.0 516.6,1043.3 516.9,1044.6 517.3,1045.8 517.6,1047.1 518.0,1048.4 518.3,1049.7 518.7,1051.0 519.1,1052.3 519.5,1053.6 520.0,1054.9 520.5,1056.2 520.9,1057.5 521.4,1058.7 522.0,1060.0 522.5,1061.3 523.1,1062.6 523.6,1063.9 524.3,1065.2 524.9,1066.4 525.5,1067.7 526.2,1068.9 526.9,1070.1 527.5,1071.4 528.3,1072.5 529.0,1073.7 529.8,1074.9 530.5,1076.0 531.3,1077.1 532.1,1078.2 533.0,1079.3 533.8,1080.4 534.7,1081.4 535.6,1082.4 536.5,1083.3 537.5,1084.3 538.4,1085.2 539.4,1086.0 540.4,1086.8 541.4,1087.6 542.4,1088.4 543.5,1089.1 544.6,1089.7 545.7,1090.3 546.8,1090.9 548.0,1091.4 549.2,1091.9 550.4,1092.3 551.6,1092.6 552.8,1092.9 554.0,1093.2 555.2,1093.4 556.5,1093.5 557.7,1093.6 559.0,1093.6 560.2,1093.6 561.5,1093.5 562.7,1093.4 564.0,1093.2 565.2,1093.0 566.5,1092.7 567.7,1092.4 568.9,1092.1 570.2,1091.7 571.4,1091.3 572.6,1090.8 573.8,1090.3 575.0,1089.8 576.2,1089.2 577.4,1088.6 578.5,1088.0 579.7,1087.3 580.8,1086.6 582.0,1085.9 583.1,1085.1 584.2,1084.3 585.3,1083.5 586.3,1082.7 587.4,1081.8 588.4,1080.9 589.4,1080.0 590.4,1079.1 591.4,1078.1 592.4,1077.1 593.3,1076.1 594.2,1075.1 595.1,1074.1 596.0,1073.0 596.8,1071.9 597.6,1070.8 598.4,1069.7 599.1,1068.6 599.8,1067.4 600.5,1066.3 601.2,1065.1 601.8,1063.9 602.4,1062.7 603.0,1061.5 603.6,1060.3 604.1,1059.1 604.6,1057.9 605.0,1056.6 605.5,1055.4 605.9,1054.1 606.3,1052.9 606.7,1051.6 607.1,1050.3 607.4,1049.0 607.7,1047.7 608.0,1046.5 608.3,1045.2 608.6,1043.9 608.8,1042.6 609.1,1041.2 609.3,1039.9 609.5,1038.6 609.6,1037.3 609.8,1036.0 610.0,1034.7 610.1,1033.3 610.2,1032.0 610.3,1030.7 610.4,1029.4 610.5,1028.0 610.6,1026.7 610.7,1025.4 610.7,1024.1 610.8,1022.8 610.8,1021.4 610.9,1020.1 610.9,1018.8 610.9,1017.5 610.9,1016.2 611.0,1014.9 611.0,1013.6 611.0,1012.3 611.0,1011.0 611.0,1009.7 611.0,1008.4 611.0,1007.1 611.0,1005.9 611.0,1004.6 610.9,1003.3 610.9,1002.0 610.9,1000.7 610.9,999.5 610.8,998.2 610.8,996.9 610.8,995.6 610.7,994.4 610.7,993.1 610.6,991.8 610.6,990.6 610.5,989.3 610.5,988.1 610.4,986.8 610.3,985.6 610.3,984.3 610.2,983.0 610.2,981.8 610.1,980.5 610.0,979.3 609.9,978.0 609.9,976.8 609.8,975.5 609.7,974.3 609.6,973.1 609.5,971.8 609.5,970.6 609.4,969.3 609.3,968.1 609.2,966.9 609.1,965.6 609.0,964.4 608.9,963.1 608.8,961.9 608.7,960.7 608.6,959.4 608.6,958.2 608.5,957.0 608.4,955.7 608.3,954.5 608.2,953.3 608.1,952.0 608.0,950.8 607.9,949.6 607.8,948.3 607.7,947.1 607.6,945.9 607.5,944.6 607.4,943.4 607.3,942.2 607.2,941.0 607.1,939.7 607.0,938.5 606.9,937.3 606.9,936.0 606.8,934.8 606.7,933.6 606.6,932.3 606.5,931.1 606.4,929.9 606.3,928.6 606.2,927.4 606.2,926.2 606.1,924.9 606.0,923.7 605.9,922.5 605.8,921.2 605.8,920.0 605.7,918.8 605.6,917.5 605.5,916.3 605.5,915.1 605.4,913.8 605.3,912.6 605.3,911.3 605.2,910.1 605.2,908.8 605.1,907.6 605.1,906.3 605.0,905.1 605.0,903.8 604.9,902.6 604.9,901.3 604.9,900.1 604.8,898.8 604.8,897.6 604.8,896.3 604.8,895.1 604.8,893.8 604.8,892.5 604.8,891.3 604.8,890.0 604.8,888.7 604.8,887.5 604.8,886.2 604.8,884.9 604.8,883.6 604.8,882.4 604.9,881.1 604.9,879.8 605.0,878.5 605.0,877.2 605.0,875.9 597.6,875.6 597.5,876.9 597.5,878.3 597.4,879.6 597.4,880.9 597.3,882.2 597.3,883.5 597.3,884.8 597.3,886.1 597.3,887.4 597.3,888.7 597.3,890.0 597.3,891.3 597.3,892.6 597.3,893.9 597.3,895.1 597.3,896.4 597.3,897.7 597.3,899.0 597.4,900.3 597.4,901.5 597.4,902.8 597.5,904.1 597.5,905.4 597.6,906.6 597.6,907.9 597.7,909.2 597.7,910.4 597.8,911.7 597.8,912.9 597.9,914.2 598.0,915.5 598.0,916.7 598.1,918.0 598.2,919.2 598.3,920.5 598.3,921.7 598.4,923.0 598.5,924.2 598.6,925.5 598.7,926.7 598.8,927.9 598.8,929.2 598.9,930.4 599.0,931.7 599.1,932.9 599.2,934.1 599.3,935.4 599.4,936.6 599.5,937.9 599.6,939.1 599.8,940.3 599.9,941.6 600.0,942.8 600.1,944.0 600.2,945.3 600.3,946.5 600.4,947.7 600.5,948.9 600.6,950.2 600.7,951.4 600.8,952.6 600.9,953.9 601.0,955.1 601.2,956.3 601.3,957.6 601.4,958.8 601.5,960.0 601.6,961.2 601.7,962.5 601.8,963.7 601.9,964.9 602.0,966.2 602.1,967.4 602.2,968.6 602.3,969.9 602.4,971.1 602.5,972.3 602.5,973.5 602.6,974.8 602.7,976.0 602.8,977.2 602.9,978.5 603.0,979.7 603.0,981.0 603.1,982.2 603.2,983.4 603.3,984.7 603.3,985.9 603.4,987.2 603.5,988.4 603.5,989.6 603.6,990.9 603.6,992.1 603.7,993.4 603.7,994.6 603.8,995.9 603.8,997.1 603.8,998.4 603.9,999.6 603.9,1000.9 603.9,1002.1 603.9,1003.4 604.0,1004.7 604.0,1005.9 604.0,1007.2 604.0,1008.4 604.0,1009.7 604.0,1011.0 604.0,1012.3 604.0,1013.5 604.0,1014.8 603.9,1016.1 603.9,1017.4 603.9,1018.6 603.8,1019.9 603.8,1021.2 603.7,1022.5 603.6,1023.7 603.6,1025.0 603.5,1026.3 603.4,1027.6 603.3,1028.8 603.2,1030.1 603.1,1031.4 603.0,1032.6 602.8,1033.9 602.7,1035.1 602.5,1036.4 602.3,1037.6 602.1,1038.8 602.0,1040.0 601.7,1041.3 601.5,1042.5 601.3,1043.7 601.0,1044.9 600.7,1046.1 600.4,1047.2 600.1,1048.4 599.8,1049.6 599.5,1050.7 599.1,1051.9 598.7,1053.0 598.3,1054.1 597.9,1055.2 597.4,1056.3 597.0,1057.4 596.5,1058.5 596.0,1059.6 595.4,1060.6 594.9,1061.6 594.3,1062.7 593.7,1063.7 593.1,1064.7 592.4,1065.7 591.7,1066.6 591.0,1067.6 590.3,1068.6 589.5,1069.5 588.8,1070.4 588.0,1071.3 587.1,1072.2 586.3,1073.1 585.4,1073.9 584.6,1074.7 583.7,1075.5 582.8,1076.3 581.8,1077.1 580.9,1077.8 579.9,1078.5 579.0,1079.2 578.0,1079.9 577.0,1080.5 576.0,1081.1 575.0,1081.7 574.0,1082.2 573.0,1082.7 572.0,1083.2 571.0,1083.7 570.0,1084.1 568.9,1084.5 567.9,1084.8 566.9,1085.2 565.9,1085.4 564.9,1085.7 563.9,1085.9 562.9,1086.1 561.9,1086.2 560.9,1086.3 559.9,1086.4 558.9,1086.4 558.0,1086.4 557.0,1086.4 556.1,1086.3 555.1,1086.2 554.2,1086.0 553.3,1085.8 552.4,1085.6 551.5,1085.3 550.7,1085.0 549.8,1084.6 549.0,1084.1 548.1,1083.7 547.3,1083.2 546.4,1082.6 545.6,1082.0 544.7,1081.4 543.9,1080.7 543.1,1080.0 542.3,1079.2 541.5,1078.4 540.7,1077.6 540.0,1076.8 539.2,1075.9 538.5,1075.0 537.7,1074.0 537.0,1073.0 536.3,1072.0 535.6,1071.0 534.9,1070.0 534.2,1068.9 533.6,1067.8 532.9,1066.7 532.3,1065.6 531.7,1064.4 531.1,1063.3 530.6,1062.1 530.0,1060.9 529.5,1059.8 528.9,1058.6 528.4,1057.4 527.9,1056.2 527.5,1055.0 527.0,1053.8 526.6,1052.5 526.2,1051.3 525.8,1050.1 525.4,1048.9 525.0,1047.7 524.7,1046.5 524.4,1045.3 524.1,1044.1 523.8,1042.9 523.5,1041.7 523.2,1040.5 522.9,1039.3 522.7,1038.1 522.5,1036.9 522.3,1035.7 522.1,1034.5 521.9,1033.2 521.7,1032.0 521.5,1030.8 521.4,1029.6 521.2,1028.4 521.1,1027.2 520.9,1026.0 520.8,1024.7 520.7,1023.5 520.6,1022.3 520.5,1021.1 520.4,1019.9 520.3,1018.6 520.3,1017.4 520.2,1016.2 520.1,1015.0 520.1,1013.7 520.0,1012.5 520.0,1011.3 519.9,1010.0 519.9,1008.8 519.9,1007.6 519.8,1006.3 519.8,1005.1 519.8,1003.8 519.8,1002.6 519.7,1001.3 519.7,1000.1 519.7,998.8 519.7,997.6 519.6,996.3 519.6,995.1 519.6,993.8 519.6,992.6 519.6,991.3 519.6,990.1 519.5,988.8 519.5,987.6 519.5,986.3 519.5,985.1 519.5,983.8 519.5,982.5 519.4,981.3 519.4,980.0 519.3,978.8 519.3,977.5 519.3,976.2 519.2,975.0 519.2,973.7 519.1,972.5 519.1,971.2 519.0,969.9 519.0,968.7 519.0,967.4 518.9,966.2 518.8,964.9 518.8,963.6 518.7,962.4 518.7,961.1 518.6,959.8 518.6,958.6 518.5,957.3 518.4,956.1 518.4,954.8 518.3,953.5 518.2,952.3 518.1,951.0 518.0,949.8 517.9,948.5 517.8,947.2 517.6,946.0 517.5,944.7 517.4,943.5 517.2,942.2 517.1,941.0 516.9,939.7 516.8,938.5 516.6,937.2 516.4,936.0 516.3,934.7 516.1,933.5 515.9,932.2 515.7,931.0 515.5,929.7 515.4,928.5 515.2,927.2 515.0,926.0 514.9,924.7 514.7,923.5 514.5,922.2 514.3,921.0 514.1,919.8 513.9,918.5 513.7,917.3 513.5,916.1 513.3,914.8 513.1,913.6 512.8,912.4 512.6,911.1 512.3,909.9 512.1,908.7 511.8,907.4 511.5,906.2 511.3,905.0 511.0,903.8 510.7,902.5 510.4,901.3 510.1,900.1 509.8,898.9 509.5,897.7 509.2,896.5 508.9,895.2 508.6,894.0 508.2,892.8 507.9,891.6 507.5,890.4 507.2,889.2 506.9,888.0 506.5,886.7 506.2,885.5 505.8,884.3 505.4,883.1 505.0,881.9 504.7,880.7 504.2,879.5 503.7,878.3 503.2,877.2 502.7,876.0 502.2,874.8" fill="#fff" stroke="none"/><path d="M499.8,875.7 L500.3,876.9 L500.7,878.1 L501.1,879.3 L501.5,880.5 L501.8,881.7 L502.3,882.9 L502.7,884.0 L503.2,885.2 L503.6,886.4 L504.0,887.5 L504.4,888.7 L504.8,889.9 L505.1,891.1 L505.5,892.3 L505.8,893.5 L506.1,894.7 L506.5,895.9 L506.8,897.1 L507.1,898.3 L507.4,899.5 L507.6,900.7 L507.9,901.9 L508.1,903.1 L508.4,904.3 L508.6,905.5 L508.8,906.8 L509.0,908.0 L509.3,909.2 L509.5,910.4 L509.6,911.6 L509.8,912.9 L510.0,914.1 L510.2,915.3 L510.4,916.5 L510.5,917.8 L510.7,919.0 L510.8,920.2 L511.0,921.5 L511.1,922.7 L511.2,923.9 L511.4,925.2 L511.5,926.4 L511.6,927.6 L511.7,928.9 L511.8,930.1 L511.9,931.3 L511.9,932.6 L512.0,933.8 L512.0,935.1 L512.1,936.3 L512.1,937.6 L512.1,938.8 L512.2,940.1 L512.2,941.3 L512.2,942.6 L512.2,943.8 L512.2,945.0 L512.2,946.3 L512.2,947.5 L512.2,948.8 L512.2,950.0 L512.3,951.3 L512.3,952.5 L512.3,953.8 L512.4,955.0 L512.4,956.3 L512.4,957.5 L512.4,958.8 L512.5,960.0 L512.5,961.3 L512.5,962.5 L512.5,963.8 L512.5,965.1 L512.5,966.3 L512.5,967.6 L512.5,968.8 L512.5,970.1 L512.5,971.3 L512.5,972.6 L512.5,973.8 L512.5,975.1 L512.5,976.3 L512.5,977.6 L512.5,978.9 L512.5,980.1 L512.5,981.4 L512.5,982.6 L512.5,983.9 L512.5,985.1 L512.5,986.4 L512.5,987.7 L512.5,988.9 L512.6,990.2 L512.6,991.4 L512.6,992.7 L512.6,993.9 L512.6,995.2 L512.6,996.4 L512.7,997.7 L512.7,999.0 L512.7,1000.2 L512.7,1001.5 L512.8,1002.7 L512.8,1004.0 L512.8,1005.2 L512.8,1006.5 L512.9,1007.7 L512.9,1009.0 L512.9,1010.3 L513.0,1011.5 L513.0,1012.8 L513.1,1014.0 L513.1,1015.3 L513.2,1016.6 L513.3,1017.8 L513.4,1019.1 L513.4,1020.3 L513.5,1021.6 L513.6,1022.9 L513.7,1024.1 L513.8,1025.4 L514.0,1026.7 L514.1,1027.9 L514.3,1029.2 L514.4,1030.5 L514.6,1031.8 L514.8,1033.0 L514.9,1034.3 L515.1,1035.6 L515.4,1036.9 L515.6,1038.1 L515.8,1039.4 L516.1,1040.7 L516.4,1042.0 L516.6,1043.3 L516.9,1044.6 L517.3,1045.8 L517.6,1047.1 L518.0,1048.4 L518.3,1049.7 L518.7,1051.0 L519.1,1052.3 L519.5,1053.6 L520.0,1054.9 L520.5,1056.2 L520.9,1057.5 L521.4,1058.7 L522.0,1060.0 L522.5,1061.3 L523.1,1062.6 L523.6,1063.9 L524.3,1065.2 L524.9,1066.4 L525.5,1067.7 L526.2,1068.9 L526.9,1070.1 L527.5,1071.4 L528.3,1072.5 L529.0,1073.7 L529.8,1074.9 L530.5,1076.0 L531.3,1077.1 L532.1,1078.2 L533.0,1079.3 L533.8,1080.4 L534.7,1081.4 L535.6,1082.4 L536.5,1083.3 L537.5,1084.3 L538.4,1085.2 L539.4,1086.0 L540.4,1086.8 L541.4,1087.6 L542.4,1088.4 L543.5,1089.1 L544.6,1089.7 L545.7,1090.3 L546.8,1090.9 L548.0,1091.4 L549.2,1091.9 L550.4,1092.3 L551.6,1092.6 L552.8,1092.9 L554.0,1093.2 L555.2,1093.4 L556.5,1093.5 L557.7,1093.6 L559.0,1093.6 L560.2,1093.6 L561.5,1093.5 L562.7,1093.4 L564.0,1093.2 L565.2,1093.0 L566.5,1092.7 L567.7,1092.4 L568.9,1092.1 L570.2,1091.7 L571.4,1091.3 L572.6,1090.8 L573.8,1090.3 L575.0,1089.8 L576.2,1089.2 L577.4,1088.6 L578.5,1088.0 L579.7,1087.3 L580.8,1086.6 L582.0,1085.9 L583.1,1085.1 L584.2,1084.3 L585.3,1083.5 L586.3,1082.7 L587.4,1081.8 L588.4,1080.9 L589.4,1080.0 L590.4,1079.1 L591.4,1078.1 L592.4,1077.1 L593.3,1076.1 L594.2,1075.1 L595.1,1074.1 L596.0,1073.0 L596.8,1071.9 L597.6,1070.8 L598.4,1069.7 L599.1,1068.6 L599.8,1067.4 L600.5,1066.3 L601.2,1065.1 L601.8,1063.9 L602.4,1062.7 L603.0,1061.5 L603.6,1060.3 L604.1,1059.1 L604.6,1057.9 L605.0,1056.6 L605.5,1055.4 L605.9,1054.1 L606.3,1052.9 L606.7,1051.6 L607.1,1050.3 L607.4,1049.0 L607.7,1047.7 L608.0,1046.5 L608.3,1045.2 L608.6,1043.9 L608.8,1042.6 L609.1,1041.2 L609.3,1039.9 L609.5,1038.6 L609.6,1037.3 L609.8,1036.0 L610.0,1034.7 L610.1,1033.3 L610.2,1032.0 L610.3,1030.7 L610.4,1029.4 L610.5,1028.0 L610.6,1026.7 L610.7,1025.4 L610.7,1024.1 L610.8,1022.8 L610.8,1021.4 L610.9,1020.1 L610.9,1018.8 L610.9,1017.5 L610.9,1016.2 L611.0,1014.9 L611.0,1013.6 L611.0,1012.3 L611.0,1011.0 L611.0,1009.7 L611.0,1008.4 L611.0,1007.1 L611.0,1005.9 L611.0,1004.6 L610.9,1003.3 L610.9,1002.0 L610.9,1000.7 L610.9,999.5 L610.8,998.2 L610.8,996.9 L610.8,995.6 L610.7,994.4 L610.7,993.1 L610.6,991.8 L610.6,990.6 L610.5,989.3 L610.5,988.1 L610.4,986.8 L610.3,985.6 L610.3,984.3 L610.2,983.0 L610.2,981.8 L610.1,980.5 L610.0,979.3 L609.9,978.0 L609.9,976.8 L609.8,975.5 L609.7,974.3 L609.6,973.1 L609.5,971.8 L609.5,970.6 L609.4,969.3 L609.3,968.1 L609.2,966.9 L609.1,965.6 L609.0,964.4 L608.9,963.1 L608.8,961.9 L608.7,960.7 L608.6,959.4 L608.6,958.2 L608.5,957.0 L608.4,955.7 L608.3,954.5 L608.2,953.3 L608.1,952.0 L608.0,950.8 L607.9,949.6 L607.8,948.3 L607.7,947.1 L607.6,945.9 L607.5,944.6 L607.4,943.4 L607.3,942.2 L607.2,941.0 L607.1,939.7 L607.0,938.5 L606.9,937.3 L606.9,936.0 L606.8,934.8 L606.7,933.6 L606.6,932.3 L606.5,931.1 L606.4,929.9 L606.3,928.6 L606.2,927.4 L606.2,926.2 L606.1,924.9 L606.0,923.7 L605.9,922.5 L605.8,921.2 L605.8,920.0 L605.7,918.8 L605.6,917.5 L605.5,916.3 L605.5,915.1 L605.4,913.8 L605.3,912.6 L605.3,911.3 L605.2,910.1 L605.2,908.8 L605.1,907.6 L605.1,906.3 L605.0,905.1 L605.0,903.8 L604.9,902.6 L604.9,901.3 L604.9,900.1 L604.8,898.8 L604.8,897.6 L604.8,896.3 L604.8,895.1 L604.8,893.8 L604.8,892.5 L604.8,891.3 L604.8,890.0 L604.8,888.7 L604.8,887.5 L604.8,886.2 L604.8,884.9 L604.8,883.6 L604.8,882.4 L604.9,881.1 L604.9,879.8 L605.0,878.5 L605.0,877.2 L605.0,875.9" fill="none" stroke="#000" stroke-width="1.15"/><path d="M502.2,874.8 L502.7,876.0 L503.2,877.2 L503.7,878.3 L504.2,879.5 L504.7,880.7 L505.0,881.9 L505.4,883.1 L505.8,884.3 L506.2,885.5 L506.5,886.7 L506.9,888.0 L507.2,889.2 L507.5,890.4 L507.9,891.6 L508.2,892.8 L508.6,894.0 L508.9,895.2 L509.2,896.5 L509.5,897.7 L509.8,898.9 L510.1,900.1 L510.4,901.3 L510.7,902.5 L511.0,903.8 L511.3,905.0 L511.5,906.2 L511.8,907.4 L512.1,908.7 L512.3,909.9 L512.6,911.1 L512.8,912.4 L513.1,913.6 L513.3,914.8 L513.5,916.1 L513.7,917.3 L513.9,918.5 L514.1,919.8 L514.3,921.0 L514.5,922.2 L514.7,923.5 L514.9,924.7 L515.0,926.0 L515.2,927.2 L515.4,928.5 L515.5,929.7 L515.7,931.0 L515.9,932.2 L516.1,933.5 L516.3,934.7 L516.4,936.0 L516.6,937.2 L516.8,938.5 L516.9,939.7 L517.1,941.0 L517.2,942.2 L517.4,943.5 L517.5,944.7 L517.6,946.0 L517.8,947.2 L517.9,948.5 L518.0,949.8 L518.1,951.0 L518.2,952.3 L518.3,953.5 L518.4,954.8 L518.4,956.1 L518.5,957.3 L518.6,958.6 L518.6,959.8 L518.7,961.1 L518.7,962.4 L518.8,963.6 L518.8,964.9 L518.9,966.2 L519.0,967.4 L519.0,968.7 L519.0,969.9 L519.1,971.2 L519.1,972.5 L519.2,973.7 L519.2,975.0 L519.3,976.2 L519.3,977.5 L519.3,978.8 L519.4,980.0 L519.4,981.3 L519.5,982.5 L519.5,983.8 L519.5,985.1 L519.5,986.3 L519.5,987.6 L519.5,988.8 L519.6,990.1 L519.6,991.3 L519.6,992.6 L519.6,993.8 L519.6,995.1 L519.6,996.3 L519.7,997.6 L519.7,998.8 L519.7,1000.1 L519.7,1001.3 L519.8,1002.6 L519.8,1003.8 L519.8,1005.1 L519.8,1006.3 L519.9,1007.6 L519.9,1008.8 L519.9,1010.0 L520.0,1011.3 L520.0,1012.5 L520.1,1013.7 L520.1,1015.0 L520.2,1016.2 L520.3,1017.4 L520.3,1018.6 L520.4,1019.9 L520.5,1021.1 L520.6,1022.3 L520.7,1023.5 L520.8,1024.7 L520.9,1026.0 L521.1,1027.2 L521.2,1028.4 L521.4,1029.6 L521.5,1030.8 L521.7,1032.0 L521.9,1033.2 L522.1,1034.5 L522.3,1035.7 L522.5,1036.9 L522.7,1038.1 L522.9,1039.3 L523.2,1040.5 L523.5,1041.7 L523.8,1042.9 L524.1,1044.1 L524.4,1045.3 L524.7,1046.5 L525.0,1047.7 L525.4,1048.9 L525.8,1050.1 L526.2,1051.3 L526.6,1052.5 L527.0,1053.8 L527.5,1055.0 L527.9,1056.2 L528.4,1057.4 L528.9,1058.6 L529.5,1059.8 L530.0,1060.9 L530.6,1062.1 L531.1,1063.3 L531.7,1064.4 L532.3,1065.6 L532.9,1066.7 L533.6,1067.8 L534.2,1068.9 L534.9,1070.0 L535.6,1071.0 L536.3,1072.0 L537.0,1073.0 L537.7,1074.0 L538.5,1075.0 L539.2,1075.9 L540.0,1076.8 L540.7,1077.6 L541.5,1078.4 L542.3,1079.2 L543.1,1080.0 L543.9,1080.7 L544.7,1081.4 L545.6,1082.0 L546.4,1082.6 L547.3,1083.2 L548.1,1083.7 L549.0,1084.1 L549.8,1084.6 L550.7,1085.0 L551.5,1085.3 L552.4,1085.6 L553.3,1085.8 L554.2,1086.0 L555.1,1086.2 L556.1,1086.3 L557.0,1086.4 L558.0,1086.4 L558.9,1086.4 L559.9,1086.4 L560.9,1086.3 L561.9,1086.2 L562.9,1086.1 L563.9,1085.9 L564.9,1085.7 L565.9,1085.4 L566.9,1085.2 L567.9,1084.8 L568.9,1084.5 L570.0,1084.1 L571.0,1083.7 L572.0,1083.2 L573.0,1082.7 L574.0,1082.2 L575.0,1081.7 L576.0,1081.1 L577.0,1080.5 L578.0,1079.9 L579.0,1079.2 L579.9,1078.5 L580.9,1077.8 L581.8,1077.1 L582.8,1076.3 L583.7,1075.5 L584.6,1074.7 L585.4,1073.9 L586.3,1073.1 L587.1,1072.2 L588.0,1071.3 L588.8,1070.4 L589.5,1069.5 L590.3,1068.6 L591.0,1067.6 L591.7,1066.6 L592.4,1065.7 L593.1,1064.7 L593.7,1063.7 L594.3,1062.7 L594.9,1061.6 L595.4,1060.6 L596.0,1059.6 L596.5,1058.5 L597.0,1057.4 L597.4,1056.3 L597.9,1055.2 L598.3,1054.1 L598.7,1053.0 L599.1,1051.9 L599.5,1050.7 L599.8,1049.6 L600.1,1048.4 L600.4,1047.2 L600.7,1046.1 L601.0,1044.9 L601.3,1043.7 L601.5,1042.5 L601.7,1041.3 L602.0,1040.0 L602.1,1038.8 L602.3,1037.6 L602.5,1036.4 L602.7,1035.1 L602.8,1033.9 L603.0,1032.6 L603.1,1031.4 L603.2,1030.1 L603.3,1028.8 L603.4,1027.6 L603.5,1026.3 L603.6,1025.0 L603.6,1023.7 L603.7,1022.5 L603.8,1021.2 L603.8,1019.9 L603.9,1018.6 L603.9,1017.4 L603.9,1016.1 L604.0,1014.8 L604.0,1013.5 L604.0,1012.3 L604.0,1011.0 L604.0,1009.7 L604.0,1008.4 L604.0,1007.2 L604.0,1005.9 L604.0,1004.7 L603.9,1003.4 L603.9,1002.1 L603.9,1000.9 L603.9,999.6 L603.8,998.4 L603.8,997.1 L603.8,995.9 L603.7,994.6 L603.7,993.4 L603.6,992.1 L603.6,990.9 L603.5,989.6 L603.5,988.4 L603.4,987.2 L603.3,985.9 L603.3,984.7 L603.2,983.4 L603.1,982.2 L603.0,981.0 L603.0,979.7 L602.9,978.5 L602.8,977.2 L602.7,976.0 L602.6,974.8 L602.5,973.5 L602.5,972.3 L602.4,971.1 L602.3,969.9 L602.2,968.6 L602.1,967.4 L602.0,966.2 L601.9,964.9 L601.8,963.7 L601.7,962.5 L601.6,961.2 L601.5,960.0 L601.4,958.8 L601.3,957.6 L601.2,956.3 L601.0,955.1 L600.9,953.9 L600.8,952.6 L600.7,951.4 L600.6,950.2 L600.5,948.9 L600.4,947.7 L600.3,946.5 L600.2,945.3 L600.1,944.0 L600.0,942.8 L599.9,941.6 L599.8,940.3 L599.6,939.1 L599.5,937.9 L599.4,936.6 L599.3,935.4 L599.2,934.1 L599.1,932.9 L599.0,931.7 L598.9,930.4 L598.8,929.2 L598.8,927.9 L598.7,926.7 L598.6,925.5 L598.5,924.2 L598.4,923.0 L598.3,921.7 L598.3,920.5 L598.2,919.2 L598.1,918.0 L598.0,916.7 L598.0,915.5 L597.9,914.2 L597.8,912.9 L597.8,911.7 L597.7,910.4 L597.7,909.2 L597.6,907.9 L597.6,906.6 L597.5,905.4 L597.5,904.1 L597.4,902.8 L597.4,901.5 L597.4,900.3 L597.3,899.0 L597.3,897.7 L597.3,896.4 L597.3,895.1 L597.3,893.9 L597.3,892.6 L597.3,891.3 L597.3,890.0 L597.3,888.7 L597.3,887.4 L597.3,886.1 L597.3,884.8 L597.3,883.5 L597.3,882.2 L597.4,880.9 L597.4,879.6 L597.5,878.3 L597.5,876.9 L597.6,875.6" fill="none" stroke="#000" stroke-width="1.15"/><polygon points="506.2,875.5 506.8,876.8 507.3,878.0 507.8,879.2 508.4,880.4 508.9,881.6 509.4,882.8 510.0,884.0 510.5,885.1 511.0,886.3 511.5,887.5 511.9,888.7 512.4,889.9 512.8,891.0 513.2,892.2 513.7,893.4 514.0,894.6 514.4,895.8 514.8,896.9 515.1,898.1 515.5,899.3 515.8,900.5 516.1,901.7 516.3,902.9 516.5,904.1 516.7,905.3 516.9,906.5 517.1,907.7 517.3,908.9 517.4,910.1 517.6,911.3 517.7,912.5 517.8,913.7 518.0,914.9 518.1,916.2 518.2,917.4 518.3,918.6 518.4,919.8 518.4,921.0 518.5,922.2 518.6,923.4 518.6,924.6 518.7,925.8 518.7,927.0 518.8,928.2 518.8,929.5 518.8,930.7 518.7,931.9 518.7,933.1 518.7,934.3 518.6,935.6 518.6,936.8 518.5,938.0 518.5,939.2 518.4,940.5 518.4,941.7 518.3,942.9 518.2,944.2 518.2,945.4 518.1,946.7 518.0,947.9 518.0,949.1 518.0,950.4 518.0,951.6 518.0,952.9 518.1,954.1 518.1,955.4 518.1,956.6 518.2,957.9 518.2,959.2 518.2,960.4 518.3,961.7 518.3,963.0 518.4,964.3 518.4,965.5 518.5,966.8 518.5,968.1 518.6,969.4 518.6,970.7 518.7,972.0 518.8,973.3 518.9,974.6 519.0,975.9 519.1,977.2 519.2,978.5 519.3,979.8 519.4,981.1 519.5,982.5 519.7,983.8 519.8,985.1 520.0,986.4 520.1,987.8 520.3,989.1 520.5,990.4 520.7,991.8 520.9,993.1 521.1,994.5 521.4,995.8 521.6,997.1 521.9,998.5 522.2,999.8 522.4,1001.1 522.8,1002.4 523.1,1003.8 523.4,1005.1 523.8,1006.4 524.2,1007.7 524.6,1009.0 525.0,1010.3 525.4,1011.5 525.9,1012.8 526.4,1014.1 526.9,1015.3 527.4,1016.5 528.0,1017.8 528.5,1019.0 529.1,1020.2 529.8,1021.4 530.4,1022.5 531.1,1023.7 531.8,1024.8 532.5,1025.9 533.3,1027.0 534.1,1028.1 534.9,1029.2 535.8,1030.2 536.6,1031.2 537.5,1032.3 538.5,1033.2 539.4,1034.2 540.4,1035.1 541.5,1036.0 542.5,1036.9 543.6,1037.7 544.7,1038.5 545.9,1039.2 547.1,1039.9 548.3,1040.6 549.5,1041.1 550.8,1041.7 552.1,1042.1 553.4,1042.6 554.7,1042.9 556.1,1043.2 557.4,1043.4 558.8,1043.5 560.2,1043.6 561.5,1043.6 562.9,1043.5 564.3,1043.4 565.6,1043.2 566.9,1042.9 568.3,1042.6 569.6,1042.3 570.9,1041.8 572.1,1041.4 573.4,1040.8 574.6,1040.2 575.8,1039.6 577.0,1038.9 578.1,1038.1 579.2,1037.3 580.2,1036.5 581.2,1035.6 582.1,1034.6 583.0,1033.7 583.9,1032.6 584.7,1031.6 585.5,1030.5 586.2,1029.4 586.9,1028.3 587.6,1027.1 588.2,1026.0 588.8,1024.8 589.4,1023.5 590.0,1022.3 590.5,1021.0 591.0,1019.8 591.4,1018.5 591.8,1017.2 592.2,1015.9 592.6,1014.5 593.0,1013.2 593.3,1011.9 593.6,1010.5 593.9,1009.2 594.2,1007.8 594.5,1006.5 594.7,1005.1 594.9,1003.7 595.1,1002.4 595.3,1001.0 595.5,999.7 595.6,998.3 595.8,997.0 595.9,995.7 596.0,994.3 596.1,993.0 596.2,991.7 596.3,990.3 596.4,989.0 596.4,987.7 596.5,986.4 596.5,985.1 596.6,983.8 596.6,982.5 596.6,981.2 596.6,979.9 596.6,978.6 596.6,977.3 596.6,976.0 596.6,974.7 596.5,973.5 596.5,972.2 596.5,970.9 596.4,969.6 596.4,968.3 596.3,967.1 596.2,965.8 596.2,964.5 596.1,963.3 596.0,962.0 595.9,960.8 595.8,959.5 595.7,958.3 595.6,957.0 595.5,955.8 595.4,954.5 595.3,953.3 595.2,952.0 595.1,950.8 595.0,949.5 594.9,948.3 594.7,947.0 594.6,945.8 594.5,944.6 594.4,943.3 594.2,942.1 594.1,940.9 594.0,939.6 593.8,938.4 593.7,937.2 593.6,935.9 593.4,934.7 593.3,933.5 593.2,932.2 593.0,931.0 592.9,929.8 592.8,928.5 592.7,927.3 592.6,926.1 592.4,924.8 592.3,923.6 592.2,922.4 592.1,921.2 592.0,919.9 591.9,918.7 591.8,917.5 591.7,916.2 591.6,915.0 591.5,913.8 591.4,912.5 591.3,911.3 591.3,910.1 591.2,908.8 591.1,907.6 591.1,906.4 591.0,905.1 591.0,903.9 590.9,902.7 590.9,901.4 590.9,900.2 590.8,898.9 590.8,897.7 590.8,896.4 590.8,895.2 590.8,893.9 590.8,892.7 590.8,891.4 590.8,890.2 590.9,888.9 590.9,887.7 591.0,886.4 591.0,885.1 591.1,883.9 591.2,882.6 591.3,881.3 591.4,880.0 591.5,878.8 591.6,877.5 591.8,876.2 585.0,875.5 584.8,876.8 584.7,878.1 584.6,879.4 584.5,880.8 584.4,882.1 584.3,883.4 584.2,884.7 584.1,886.1 584.0,887.4 584.0,888.7 583.9,890.0 583.9,891.3 583.9,892.6 583.8,893.9 583.8,895.2 583.8,896.5 583.8,897.7 583.8,899.0 583.9,900.3 583.9,901.6 583.9,902.9 584.0,904.1 584.0,905.4 584.1,906.7 584.1,908.0 584.2,909.2 584.3,910.5 584.4,911.8 584.4,913.0 584.5,914.3 584.6,915.5 584.7,916.8 584.8,918.0 584.9,919.3 585.0,920.5 585.1,921.8 585.2,923.0 585.3,924.3 585.5,925.5 585.6,926.8 585.7,928.0 585.8,929.2 586.0,930.5 586.1,931.7 586.2,932.9 586.3,934.2 586.4,935.4 586.6,936.6 586.7,937.9 586.8,939.1 586.9,940.3 587.1,941.6 587.2,942.8 587.3,944.0 587.4,945.3 587.5,946.5 587.6,947.7 587.8,948.9 587.9,950.2 588.0,951.4 588.1,952.6 588.2,953.9 588.3,955.1 588.4,956.3 588.5,957.5 588.6,958.8 588.6,960.0 588.7,961.2 588.8,962.5 588.9,963.7 588.9,964.9 589.0,966.2 589.0,967.4 589.1,968.6 589.1,969.9 589.1,971.1 589.2,972.4 589.2,973.6 589.2,974.8 589.2,976.1 589.2,977.3 589.2,978.6 589.2,979.8 589.1,981.1 589.1,982.3 589.1,983.6 589.0,984.8 589.0,986.1 588.9,987.3 588.8,988.6 588.7,989.8 588.6,991.1 588.5,992.4 588.4,993.6 588.2,994.9 588.1,996.2 587.9,997.4 587.8,998.7 587.6,1000.0 587.4,1001.3 587.3,1002.6 587.1,1003.8 586.9,1005.1 586.6,1006.4 586.4,1007.7 586.2,1008.9 585.9,1010.1 585.6,1011.4 585.3,1012.6 585.0,1013.8 584.7,1015.0 584.3,1016.1 583.9,1017.3 583.5,1018.4 583.1,1019.5 582.7,1020.6 582.2,1021.6 581.7,1022.7 581.2,1023.6 580.7,1024.6 580.1,1025.5 579.6,1026.4 578.9,1027.3 578.3,1028.1 577.6,1028.9 576.9,1029.6 576.2,1030.3 575.5,1031.0 574.7,1031.7 573.9,1032.3 573.1,1032.8 572.2,1033.3 571.3,1033.8 570.4,1034.3 569.4,1034.7 568.5,1035.1 567.5,1035.4 566.5,1035.7 565.5,1035.9 564.4,1036.1 563.4,1036.2 562.4,1036.3 561.4,1036.4 560.3,1036.4 559.3,1036.3 558.3,1036.2 557.3,1036.1 556.3,1035.9 555.3,1035.6 554.4,1035.3 553.4,1035.0 552.4,1034.6 551.5,1034.1 550.6,1033.6 549.6,1033.1 548.7,1032.5 547.8,1031.9 546.9,1031.2 546.0,1030.5 545.1,1029.8 544.3,1029.0 543.5,1028.3 542.7,1027.4 541.9,1026.6 541.1,1025.7 540.4,1024.8 539.7,1023.9 539.0,1023.0 538.3,1022.0 537.7,1021.0 537.1,1020.1 536.5,1019.0 535.9,1018.0 535.4,1017.0 534.8,1015.9 534.3,1014.8 533.8,1013.7 533.3,1012.6 532.9,1011.5 532.5,1010.3 532.0,1009.2 531.6,1008.0 531.2,1006.9 530.9,1005.7 530.5,1004.5 530.2,1003.3 529.9,1002.0 529.6,1000.8 529.3,999.6 529.0,998.3 528.7,997.1 528.5,995.8 528.3,994.6 528.0,993.3 527.8,992.0 527.6,990.7 527.4,989.5 527.3,988.2 527.1,986.9 526.9,985.6 526.8,984.3 526.6,983.0 526.5,981.8 526.4,980.5 526.3,979.2 526.2,977.9 526.1,976.7 526.0,975.4 525.9,974.1 525.8,972.8 525.7,971.6 525.6,970.3 525.6,969.0 525.5,967.8 525.4,966.5 525.4,965.3 525.3,964.0 525.3,962.7 525.3,961.5 525.2,960.2 525.2,959.0 525.1,957.7 525.1,956.5 525.1,955.2 525.1,954.0 525.0,952.7 525.0,951.5 525.0,950.2 524.9,949.0 524.8,947.7 524.7,946.5 524.6,945.3 524.4,944.0 524.3,942.8 524.2,941.5 524.1,940.3 523.9,939.1 523.8,937.8 523.7,936.6 523.5,935.4 523.4,934.1 523.2,932.9 523.1,931.7 522.9,930.5 522.8,929.2 522.6,928.0 522.5,926.8 522.4,925.5 522.3,924.3 522.1,923.1 522.0,921.9 521.8,920.7 521.7,919.4 521.5,918.2 521.3,917.0 521.1,915.8 520.9,914.6 520.7,913.3 520.5,912.1 520.3,910.9 520.0,909.7 519.8,908.5 519.5,907.3 519.3,906.1 519.0,904.9 518.7,903.7 518.4,902.4 518.1,901.2 517.8,900.0 517.5,898.8 517.2,897.6 516.9,896.4 516.6,895.1 516.3,893.9 515.9,892.7 515.6,891.5 515.2,890.2 514.8,889.0 514.4,887.8 514.0,886.6 513.5,885.3 513.1,884.1 512.6,882.9 512.1,881.6 511.6,880.4 511.0,879.2 510.4,878.0 509.7,876.8 509.1,875.6 508.4,874.4" fill="#fff" stroke="none"/><path d="M506.2,875.5 L506.8,876.8 L507.3,878.0 L507.8,879.2 L508.4,880.4 L508.9,881.6 L509.4,882.8 L510.0,884.0 L510.5,885.1 L511.0,886.3 L511.5,887.5 L511.9,888.7 L512.4,889.9 L512.8,891.0 L513.2,892.2 L513.7,893.4 L514.0,894.6 L514.4,895.8 L514.8,896.9 L515.1,898.1 L515.5,899.3 L515.8,900.5 L516.1,901.7 L516.3,902.9 L516.5,904.1 L516.7,905.3 L516.9,906.5 L517.1,907.7 L517.3,908.9 L517.4,910.1 L517.6,911.3 L517.7,912.5 L517.8,913.7 L518.0,914.9 L518.1,916.2 L518.2,917.4 L518.3,918.6 L518.4,919.8 L518.4,921.0 L518.5,922.2 L518.6,923.4 L518.6,924.6 L518.7,925.8 L518.7,927.0 L518.8,928.2 L518.8,929.5 L518.8,930.7 L518.7,931.9 L518.7,933.1 L518.7,934.3 L518.6,935.6 L518.6,936.8 L518.5,938.0 L518.5,939.2 L518.4,940.5 L518.4,941.7 L518.3,942.9 L518.2,944.2 L518.2,945.4 L518.1,946.7 L518.0,947.9 L518.0,949.1 L518.0,950.4 L518.0,951.6 L518.0,952.9 L518.1,954.1 L518.1,955.4 L518.1,956.6 L518.2,957.9 L518.2,959.2 L518.2,960.4 L518.3,961.7 L518.3,963.0 L518.4,964.3 L518.4,965.5 L518.5,966.8 L518.5,968.1 L518.6,969.4 L518.6,970.7 L518.7,972.0 L518.8,973.3 L518.9,974.6 L519.0,975.9 L519.1,977.2 L519.2,978.5 L519.3,979.8 L519.4,981.1 L519.5,982.5 L519.7,983.8 L519.8,985.1 L520.0,986.4 L520.1,987.8 L520.3,989.1 L520.5,990.4 L520.7,991.8 L520.9,993.1 L521.1,994.5 L521.4,995.8 L521.6,997.1 L521.9,998.5 L522.2,999.8 L522.4,1001.1 L522.8,1002.4 L523.1,1003.8 L523.4,1005.1 L523.8,1006.4 L524.2,1007.7 L524.6,1009.0 L525.0,1010.3 L525.4,1011.5 L525.9,1012.8 L526.4,1014.1 L526.9,1015.3 L527.4,1016.5 L528.0,1017.8 L528.5,1019.0 L529.1,1020.2 L529.8,1021.4 L530.4,1022.5 L531.1,1023.7 L531.8,1024.8 L532.5,1025.9 L533.3,1027.0 L534.1,1028.1 L534.9,1029.2 L535.8,1030.2 L536.6,1031.2 L537.5,1032.3 L538.5,1033.2 L539.4,1034.2 L540.4,1035.1 L541.5,1036.0 L542.5,1036.9 L543.6,1037.7 L544.7,1038.5 L545.9,1039.2 L547.1,1039.9 L548.3,1040.6 L549.5,1041.1 L550.8,1041.7 L552.1,1042.1 L553.4,1042.6 L554.7,1042.9 L556.1,1043.2 L557.4,1043.4 L558.8,1043.5 L560.2,1043.6 L561.5,1043.6 L562.9,1043.5 L564.3,1043.4 L565.6,1043.2 L566.9,1042.9 L568.3,1042.6 L569.6,1042.3 L570.9,1041.8 L572.1,1041.4 L573.4,1040.8 L574.6,1040.2 L575.8,1039.6 L577.0,1038.9 L578.1,1038.1 L579.2,1037.3 L580.2,1036.5 L581.2,1035.6 L582.1,1034.6 L583.0,1033.7 L583.9,1032.6 L584.7,1031.6 L585.5,1030.5 L586.2,1029.4 L586.9,1028.3 L587.6,1027.1 L588.2,1026.0 L588.8,1024.8 L589.4,1023.5 L590.0,1022.3 L590.5,1021.0 L591.0,1019.8 L591.4,1018.5 L591.8,1017.2 L592.2,1015.9 L592.6,1014.5 L593.0,1013.2 L593.3,1011.9 L593.6,1010.5 L593.9,1009.2 L594.2,1007.8 L594.5,1006.5 L594.7,1005.1 L594.9,1003.7 L595.1,1002.4 L595.3,1001.0 L595.5,999.7 L595.6,998.3 L595.8,997.0 L595.9,995.7 L596.0,994.3 L596.1,993.0 L596.2,991.7 L596.3,990.3 L596.4,989.0 L596.4,987.7 L596.5,986.4 L596.5,985.1 L596.6,983.8 L596.6,982.5 L596.6,981.2 L596.6,979.9 L596.6,978.6 L596.6,977.3 L596.6,976.0 L596.6,974.7 L596.5,973.5 L596.5,972.2 L596.5,970.9 L596.4,969.6 L596.4,968.3 L596.3,967.1 L596.2,965.8 L596.2,964.5 L596.1,963.3 L596.0,962.0 L595.9,960.8 L595.8,959.5 L595.7,958.3 L595.6,957.0 L595.5,955.8 L595.4,954.5 L595.3,953.3 L595.2,952.0 L595.1,950.8 L595.0,949.5 L594.9,948.3 L594.7,947.0 L594.6,945.8 L594.5,944.6 L594.4,943.3 L594.2,942.1 L594.1,940.9 L594.0,939.6 L593.8,938.4 L593.7,937.2 L593.6,935.9 L593.4,934.7 L593.3,933.5 L593.2,932.2 L593.0,931.0 L592.9,929.8 L592.8,928.5 L592.7,927.3 L592.6,926.1 L592.4,924.8 L592.3,923.6 L592.2,922.4 L592.1,921.2 L592.0,919.9 L591.9,918.7 L591.8,917.5 L591.7,916.2 L591.6,915.0 L591.5,913.8 L591.4,912.5 L591.3,911.3 L591.3,910.1 L591.2,908.8 L591.1,907.6 L591.1,906.4 L591.0,905.1 L591.0,903.9 L590.9,902.7 L590.9,901.4 L590.9,900.2 L590.8,898.9 L590.8,897.7 L590.8,896.4 L590.8,895.2 L590.8,893.9 L590.8,892.7 L590.8,891.4 L590.8,890.2 L590.9,888.9 L590.9,887.7 L591.0,886.4 L591.0,885.1 L591.1,883.9 L591.2,882.6 L591.3,881.3 L591.4,880.0 L591.5,878.8 L591.6,877.5 L591.8,876.2" fill="none" stroke="#000" stroke-width="1.15"/><path d="M508.4,874.4 L509.1,875.6 L509.7,876.8 L510.4,878.0 L511.0,879.2 L511.6,880.4 L512.1,881.6 L512.6,882.9 L513.1,884.1 L513.5,885.3 L514.0,886.6 L514.4,887.8 L514.8,889.0 L515.2,890.2 L515.6,891.5 L515.9,892.7 L516.3,893.9 L516.6,895.1 L516.9,896.4 L517.2,897.6 L517.5,898.8 L517.8,900.0 L518.1,901.2 L518.4,902.4 L518.7,903.7 L519.0,904.9 L519.3,906.1 L519.5,907.3 L519.8,908.5 L520.0,909.7 L520.3,910.9 L520.5,912.1 L520.7,913.3 L520.9,914.6 L521.1,915.8 L521.3,917.0 L521.5,918.2 L521.7,919.4 L521.8,920.7 L522.0,921.9 L522.1,923.1 L522.3,924.3 L522.4,925.5 L522.5,926.8 L522.6,928.0 L522.8,929.2 L522.9,930.5 L523.1,931.7 L523.2,932.9 L523.4,934.1 L523.5,935.4 L523.7,936.6 L523.8,937.8 L523.9,939.1 L524.1,940.3 L524.2,941.5 L524.3,942.8 L524.4,944.0 L524.6,945.3 L524.7,946.5 L524.8,947.7 L524.9,949.0 L525.0,950.2 L525.0,951.5 L525.0,952.7 L525.1,954.0 L525.1,955.2 L525.1,956.5 L525.1,957.7 L525.2,959.0 L525.2,960.2 L525.3,961.5 L525.3,962.7 L525.3,964.0 L525.4,965.3 L525.4,966.5 L525.5,967.8 L525.6,969.0 L525.6,970.3 L525.7,971.6 L525.8,972.8 L525.9,974.1 L526.0,975.4 L526.1,976.7 L526.2,977.9 L526.3,979.2 L526.4,980.5 L526.5,981.8 L526.6,983.0 L526.8,984.3 L526.9,985.6 L527.1,986.9 L527.3,988.2 L527.4,989.5 L527.6,990.7 L527.8,992.0 L528.0,993.3 L528.3,994.6 L528.5,995.8 L528.7,997.1 L529.0,998.3 L529.3,999.6 L529.6,1000.8 L529.9,1002.0 L530.2,1003.3 L530.5,1004.5 L530.9,1005.7 L531.2,1006.9 L531.6,1008.0 L532.0,1009.2 L532.5,1010.3 L532.9,1011.5 L533.3,1012.6 L533.8,1013.7 L534.3,1014.8 L534.8,1015.9 L535.4,1017.0 L535.9,1018.0 L536.5,1019.0 L537.1,1020.1 L537.7,1021.0 L538.3,1022.0 L539.0,1023.0 L539.7,1023.9 L540.4,1024.8 L541.1,1025.7 L541.9,1026.6 L542.7,1027.4 L543.5,1028.3 L544.3,1029.0 L545.1,1029.8 L546.0,1030.5 L546.9,1031.2 L547.8,1031.9 L548.7,1032.5 L549.6,1033.1 L550.6,1033.6 L551.5,1034.1 L552.4,1034.6 L553.4,1035.0 L554.4,1035.3 L555.3,1035.6 L556.3,1035.9 L557.3,1036.1 L558.3,1036.2 L559.3,1036.3 L560.3,1036.4 L561.4,1036.4 L562.4,1036.3 L563.4,1036.2 L564.4,1036.1 L565.5,1035.9 L566.5,1035.7 L567.5,1035.4 L568.5,1035.1 L569.4,1034.7 L570.4,1034.3 L571.3,1033.8 L572.2,1033.3 L573.1,1032.8 L573.9,1032.3 L574.7,1031.7 L575.5,1031.0 L576.2,1030.3 L576.9,1029.6 L577.6,1028.9 L578.3,1028.1 L578.9,1027.3 L579.6,1026.4 L580.1,1025.5 L580.7,1024.6 L581.2,1023.6 L581.7,1022.7 L582.2,1021.6 L582.7,1020.6 L583.1,1019.5 L583.5,1018.4 L583.9,1017.3 L584.3,1016.1 L584.7,1015.0 L585.0,1013.8 L585.3,1012.6 L585.6,1011.4 L585.9,1010.1 L586.2,1008.9 L586.4,1007.7 L586.6,1006.4 L586.9,1005.1 L587.1,1003.8 L587.3,1002.6 L587.4,1001.3 L587.6,1000.0 L587.8,998.7 L587.9,997.4 L588.1,996.2 L588.2,994.9 L588.4,993.6 L588.5,992.4 L588.6,991.1 L588.7,989.8 L588.8,988.6 L588.9,987.3 L589.0,986.1 L589.0,984.8 L589.1,983.6 L589.1,982.3 L589.1,981.1 L589.2,979.8 L589.2,978.6 L589.2,977.3 L589.2,976.1 L589.2,974.8 L589.2,973.6 L589.2,972.4 L589.1,971.1 L589.1,969.9 L589.1,968.6 L589.0,967.4 L589.0,966.2 L588.9,964.9 L588.9,963.7 L588.8,962.5 L588.7,961.2 L588.6,960.0 L588.6,958.8 L588.5,957.5 L588.4,956.3 L588.3,955.1 L588.2,953.9 L588.1,952.6 L588.0,951.4 L587.9,950.2 L587.8,948.9 L587.6,947.7 L587.5,946.5 L587.4,945.3 L587.3,944.0 L587.2,942.8 L587.1,941.6 L586.9,940.3 L586.8,939.1 L586.7,937.9 L586.6,936.6 L586.4,935.4 L586.3,934.2 L586.2,932.9 L586.1,931.7 L586.0,930.5 L585.8,929.2 L585.7,928.0 L585.6,926.8 L585.5,925.5 L585.3,924.3 L585.2,923.0 L585.1,921.8 L585.0,920.5 L584.9,919.3 L584.8,918.0 L584.7,916.8 L584.6,915.5 L584.5,914.3 L584.4,913.0 L584.4,911.8 L584.3,910.5 L584.2,909.2 L584.1,908.0 L584.1,906.7 L584.0,905.4 L584.0,904.1 L583.9,902.9 L583.9,901.6 L583.9,900.3 L583.8,899.0 L583.8,897.7 L583.8,896.5 L583.8,895.2 L583.8,893.9 L583.9,892.6 L583.9,891.3 L583.9,890.0 L584.0,888.7 L584.0,887.4 L584.1,886.1 L584.2,884.7 L584.3,883.4 L584.4,882.1 L584.5,880.8 L584.6,879.4 L584.7,878.1 L584.8,876.8 L585.0,875.5" fill="none" stroke="#000" stroke-width="1.15"/>
  <!-- main rod -->
  <rect class="r" x="170" y="868.5" width="551" height="7"/>
  <path class="l" d="M170.5 868.5V875.5 M720.5 868.5V875.5"/>
  <rect class="r" x="167.5" y="869.5" width="2" height="5"/>
  <rect class="r" x="721.5" y="870" width="2" height="4.5"/>

  <!-- 130mm parts -->
  <path class="l" d="M199.5 854.5V912.5 M199.5 854.5H215 M199.5 912.5H215"/>
  <path class="a" d="M199.5 855.5l-1.3 5 1.3 4 1.3 -4z M199.5 911.5l-1.3 -5 1.3 -4 1.3 4z"/>
  <text transform="translate(198.3 883.8) rotate(-90)" text-anchor="middle" textLength="40" lengthAdjust="spacingAndGlyphs">130mm</text>
  <path class="l" d="M185 868.5H199.5 M185 875.5H199.5 M185 864.5H199.5"/>
  <path class="l" d="M218.5 854.5H232.5V912.5H218.5Z M218.5 878.5H232.5"/>
  <rect class="r" x="254.5" y="854.5" width="13" height="58"/>
  <path class="l" d="M254.5 878.5H267.5 M254.5 868.5H267.5 M254.5 875.5H267.5"/>
  <path class="l" d="M218.5 915.5V936 M232.5 915.5V936 M205 935.5H245.5"/>
  <text x="208.5" y="933.6" textLength="33.5" lengthAdjust="spacingAndGlyphs">30mm</text>

  <!-- mounts -->
  <rect class="r" x="287.5" y="866.5" width="45" height="11"/>
  <rect class="r" x="630.5" y="866.5" width="43" height="10"/>
  <polygon points="296.8,875.0 297.6,876.0 298.4,877.0 299.3,878.0 300.1,879.0 300.9,880.0 301.8,881.0 302.7,882.0 303.5,883.0 304.4,884.0 305.3,884.9 306.2,885.9 307.2,886.8 308.1,887.8 309.0,888.7 310.0,889.6 311.0,890.5 311.9,891.4 312.9,892.3 313.9,893.1 314.9,894.0 315.9,894.8 317.0,895.7 318.0,896.5 319.0,897.3 320.1,898.1 321.2,898.9 322.2,899.6 323.3,900.4 324.4,901.1 325.5,901.8 326.6,902.5 327.7,903.2 328.9,903.9 330.0,904.5 331.2,905.2 332.3,905.8 333.5,906.4 334.6,907.0 335.8,907.5 337.0,908.1 338.2,908.6 339.4,909.1 340.6,909.6 341.8,910.0 343.0,910.5 344.3,910.9 345.5,911.3 346.7,911.7 348.0,912.0 349.3,912.4 350.5,912.7 351.8,912.9 353.1,913.2 354.3,913.4 355.6,913.7 356.9,913.8 358.2,914.0 359.5,914.1 360.8,914.2 362.1,914.3 363.4,914.4 364.7,914.4 366.1,914.4 367.4,914.4 368.7,914.4 370.0,914.3 371.3,914.2 372.6,914.1 374.0,914.0 375.3,913.9 376.6,913.7 377.9,913.5 379.2,913.3 380.5,913.1 381.8,912.8 383.1,912.5 384.4,912.3 385.7,911.9 387.0,911.6 388.3,911.3 389.6,910.9 390.9,910.5 392.2,910.1 393.4,909.7 394.7,909.3 396.0,908.8 397.2,908.4 398.5,907.9 399.7,907.4 401.0,906.9 402.2,906.3 403.4,905.8 404.7,905.2 405.9,904.7 407.1,904.1 408.3,903.5 409.5,902.9 410.6,902.2 411.8,901.6 413.0,901.0 414.1,900.3 415.3,899.6 416.4,899.0 417.5,898.3 418.7,897.6 419.8,896.9 420.9,896.2 422.0,895.5 423.1,894.8 424.2,894.1 425.3,893.3 426.4,892.6 427.5,891.9 428.5,891.2 429.6,890.4 430.7,889.7 431.7,889.0 432.8,888.2 433.9,887.5 434.9,886.8 436.0,886.0 437.0,885.3 438.1,884.6 439.1,883.8 440.2,883.1 441.2,882.4 442.3,881.7 443.3,881.0 444.3,880.3 445.4,879.6 446.4,878.9 447.5,878.3 448.5,877.6 449.5,876.9 450.6,876.3 451.6,875.7 452.7,875.0 453.7,874.4 454.8,873.8 455.8,873.2 456.9,872.6 457.9,872.1 459.0,871.5 460.0,871.0 461.1,870.4 462.1,869.9 463.2,869.4 464.3,869.0 465.4,868.5 466.4,868.1 467.5,867.6 468.6,867.2 469.7,866.8 470.8,866.5 471.9,866.1 473.0,865.8 474.1,865.5 475.2,865.2 476.3,864.9 477.3,864.7 478.4,864.6 479.5,864.4 480.5,864.3 481.6,864.3 482.6,864.3 483.6,864.4 484.6,864.5 485.6,864.6 486.5,864.8 487.5,865.1 488.4,865.4 489.3,865.8 490.3,866.3 491.2,866.8 492.1,867.5 493.0,868.2 493.8,869.0 494.7,869.9 495.7,871.0 501.0,866.5 499.9,865.2 498.7,864.0 497.5,862.9 496.3,861.9 495.0,861.0 493.7,860.2 492.3,859.5 491.0,858.9 489.6,858.4 488.2,858.0 486.9,857.7 485.5,857.5 484.1,857.4 482.8,857.3 481.4,857.3 480.1,857.4 478.8,857.5 477.4,857.6 476.1,857.8 474.8,858.1 473.6,858.4 472.3,858.7 471.0,859.0 469.8,859.4 468.6,859.8 467.4,860.2 466.2,860.6 465.0,861.1 463.8,861.6 462.6,862.0 461.5,862.5 460.3,863.1 459.2,863.6 458.0,864.1 456.9,864.7 455.7,865.3 454.6,865.9 453.5,866.5 452.4,867.1 451.3,867.7 450.2,868.4 449.1,869.0 448.0,869.7 446.9,870.3 445.8,871.0 444.7,871.7 443.7,872.4 442.6,873.1 441.5,873.8 440.5,874.5 439.4,875.2 438.3,875.9 437.3,876.6 436.2,877.4 435.2,878.1 434.1,878.8 433.0,879.5 432.0,880.3 430.9,881.0 429.9,881.7 428.8,882.5 427.8,883.2 426.7,883.9 425.7,884.6 424.6,885.4 423.5,886.1 422.5,886.8 421.4,887.5 420.4,888.2 419.3,888.9 418.2,889.6 417.1,890.3 416.1,891.0 415.0,891.6 413.9,892.3 412.8,893.0 411.7,893.6 410.6,894.2 409.5,894.9 408.4,895.5 407.3,896.1 406.2,896.7 405.1,897.2 404.0,897.8 402.9,898.3 401.7,898.9 400.6,899.4 399.4,899.9 398.3,900.4 397.1,900.9 395.9,901.4 394.8,901.8 393.6,902.2 392.4,902.7 391.2,903.1 390.0,903.5 388.8,903.8 387.7,904.2 386.5,904.5 385.3,904.8 384.1,905.1 382.9,905.4 381.7,905.7 380.4,905.9 379.2,906.2 378.0,906.4 376.8,906.6 375.6,906.8 374.4,906.9 373.2,907.0 372.0,907.2 370.8,907.3 369.6,907.3 368.4,907.4 367.2,907.4 366.1,907.4 364.9,907.4 363.7,907.4 362.5,907.3 361.3,907.3 360.2,907.2 359.0,907.0 357.8,906.9 356.7,906.7 355.5,906.5 354.4,906.3 353.3,906.1 352.1,905.8 351.0,905.6 349.8,905.3 348.7,905.0 347.6,904.6 346.5,904.3 345.4,903.9 344.3,903.5 343.1,903.0 342.0,902.6 341.0,902.2 339.9,901.7 338.8,901.2 337.7,900.7 336.6,900.1 335.6,899.6 334.5,899.0 333.5,898.4 332.4,897.8 331.4,897.2 330.3,896.6 329.3,895.9 328.3,895.3 327.3,894.6 326.3,893.9 325.3,893.2 324.3,892.5 323.3,891.7 322.3,891.0 321.3,890.2 320.4,889.4 319.4,888.6 318.5,887.8 317.6,887.0 316.6,886.2 315.7,885.4 314.8,884.5 313.9,883.6 313.0,882.8 312.1,881.9 311.3,881.0 310.4,880.1 309.6,879.2 308.7,878.3 307.9,877.4 307.1,876.4 306.3,875.5 305.5,874.5 304.7,873.6 303.9,872.6 303.1,871.7 302.4,870.7" fill="#fff" stroke="none"/><path d="M296.8,875.0 L297.6,876.0 L298.4,877.0 L299.3,878.0 L300.1,879.0 L300.9,880.0 L301.8,881.0 L302.7,882.0 L303.5,883.0 L304.4,884.0 L305.3,884.9 L306.2,885.9 L307.2,886.8 L308.1,887.8 L309.0,888.7 L310.0,889.6 L311.0,890.5 L311.9,891.4 L312.9,892.3 L313.9,893.1 L314.9,894.0 L315.9,894.8 L317.0,895.7 L318.0,896.5 L319.0,897.3 L320.1,898.1 L321.2,898.9 L322.2,899.6 L323.3,900.4 L324.4,901.1 L325.5,901.8 L326.6,902.5 L327.7,903.2 L328.9,903.9 L330.0,904.5 L331.2,905.2 L332.3,905.8 L333.5,906.4 L334.6,907.0 L335.8,907.5 L337.0,908.1 L338.2,908.6 L339.4,909.1 L340.6,909.6 L341.8,910.0 L343.0,910.5 L344.3,910.9 L345.5,911.3 L346.7,911.7 L348.0,912.0 L349.3,912.4 L350.5,912.7 L351.8,912.9 L353.1,913.2 L354.3,913.4 L355.6,913.7 L356.9,913.8 L358.2,914.0 L359.5,914.1 L360.8,914.2 L362.1,914.3 L363.4,914.4 L364.7,914.4 L366.1,914.4 L367.4,914.4 L368.7,914.4 L370.0,914.3 L371.3,914.2 L372.6,914.1 L374.0,914.0 L375.3,913.9 L376.6,913.7 L377.9,913.5 L379.2,913.3 L380.5,913.1 L381.8,912.8 L383.1,912.5 L384.4,912.3 L385.7,911.9 L387.0,911.6 L388.3,911.3 L389.6,910.9 L390.9,910.5 L392.2,910.1 L393.4,909.7 L394.7,909.3 L396.0,908.8 L397.2,908.4 L398.5,907.9 L399.7,907.4 L401.0,906.9 L402.2,906.3 L403.4,905.8 L404.7,905.2 L405.9,904.7 L407.1,904.1 L408.3,903.5 L409.5,902.9 L410.6,902.2 L411.8,901.6 L413.0,901.0 L414.1,900.3 L415.3,899.6 L416.4,899.0 L417.5,898.3 L418.7,897.6 L419.8,896.9 L420.9,896.2 L422.0,895.5 L423.1,894.8 L424.2,894.1 L425.3,893.3 L426.4,892.6 L427.5,891.9 L428.5,891.2 L429.6,890.4 L430.7,889.7 L431.7,889.0 L432.8,888.2 L433.9,887.5 L434.9,886.8 L436.0,886.0 L437.0,885.3 L438.1,884.6 L439.1,883.8 L440.2,883.1 L441.2,882.4 L442.3,881.7 L443.3,881.0 L444.3,880.3 L445.4,879.6 L446.4,878.9 L447.5,878.3 L448.5,877.6 L449.5,876.9 L450.6,876.3 L451.6,875.7 L452.7,875.0 L453.7,874.4 L454.8,873.8 L455.8,873.2 L456.9,872.6 L457.9,872.1 L459.0,871.5 L460.0,871.0 L461.1,870.4 L462.1,869.9 L463.2,869.4 L464.3,869.0 L465.4,868.5 L466.4,868.1 L467.5,867.6 L468.6,867.2 L469.7,866.8 L470.8,866.5 L471.9,866.1 L473.0,865.8 L474.1,865.5 L475.2,865.2 L476.3,864.9 L477.3,864.7 L478.4,864.6 L479.5,864.4 L480.5,864.3 L481.6,864.3 L482.6,864.3 L483.6,864.4 L484.6,864.5 L485.6,864.6 L486.5,864.8 L487.5,865.1 L488.4,865.4 L489.3,865.8 L490.3,866.3 L491.2,866.8 L492.1,867.5 L493.0,868.2 L493.8,869.0 L494.7,869.9 L495.7,871.0" fill="none" stroke="#000" stroke-width="1.15"/><path d="M302.4,870.7 L303.1,871.7 L303.9,872.6 L304.7,873.6 L305.5,874.5 L306.3,875.5 L307.1,876.4 L307.9,877.4 L308.7,878.3 L309.6,879.2 L310.4,880.1 L311.3,881.0 L312.1,881.9 L313.0,882.8 L313.9,883.6 L314.8,884.5 L315.7,885.4 L316.6,886.2 L317.6,887.0 L318.5,887.8 L319.4,888.6 L320.4,889.4 L321.3,890.2 L322.3,891.0 L323.3,891.7 L324.3,892.5 L325.3,893.2 L326.3,893.9 L327.3,894.6 L328.3,895.3 L329.3,895.9 L330.3,896.6 L331.4,897.2 L332.4,897.8 L333.5,898.4 L334.5,899.0 L335.6,899.6 L336.6,900.1 L337.7,900.7 L338.8,901.2 L339.9,901.7 L341.0,902.2 L342.0,902.6 L343.1,903.0 L344.3,903.5 L345.4,903.9 L346.5,904.3 L347.6,904.6 L348.7,905.0 L349.8,905.3 L351.0,905.6 L352.1,905.8 L353.3,906.1 L354.4,906.3 L355.5,906.5 L356.7,906.7 L357.8,906.9 L359.0,907.0 L360.2,907.2 L361.3,907.3 L362.5,907.3 L363.7,907.4 L364.9,907.4 L366.1,907.4 L367.2,907.4 L368.4,907.4 L369.6,907.3 L370.8,907.3 L372.0,907.2 L373.2,907.0 L374.4,906.9 L375.6,906.8 L376.8,906.6 L378.0,906.4 L379.2,906.2 L380.4,905.9 L381.7,905.7 L382.9,905.4 L384.1,905.1 L385.3,904.8 L386.5,904.5 L387.7,904.2 L388.8,903.8 L390.0,903.5 L391.2,903.1 L392.4,902.7 L393.6,902.2 L394.8,901.8 L395.9,901.4 L397.1,900.9 L398.3,900.4 L399.4,899.9 L400.6,899.4 L401.7,898.9 L402.9,898.3 L404.0,897.8 L405.1,897.2 L406.2,896.7 L407.3,896.1 L408.4,895.5 L409.5,894.9 L410.6,894.2 L411.7,893.6 L412.8,893.0 L413.9,892.3 L415.0,891.6 L416.1,891.0 L417.1,890.3 L418.2,889.6 L419.3,888.9 L420.4,888.2 L421.4,887.5 L422.5,886.8 L423.5,886.1 L424.6,885.4 L425.7,884.6 L426.7,883.9 L427.8,883.2 L428.8,882.5 L429.9,881.7 L430.9,881.0 L432.0,880.3 L433.0,879.5 L434.1,878.8 L435.2,878.1 L436.2,877.4 L437.3,876.6 L438.3,875.9 L439.4,875.2 L440.5,874.5 L441.5,873.8 L442.6,873.1 L443.7,872.4 L444.7,871.7 L445.8,871.0 L446.9,870.3 L448.0,869.7 L449.1,869.0 L450.2,868.4 L451.3,867.7 L452.4,867.1 L453.5,866.5 L454.6,865.9 L455.7,865.3 L456.9,864.7 L458.0,864.1 L459.2,863.6 L460.3,863.1 L461.5,862.5 L462.6,862.0 L463.8,861.6 L465.0,861.1 L466.2,860.6 L467.4,860.2 L468.6,859.8 L469.8,859.4 L471.0,859.0 L472.3,858.7 L473.6,858.4 L474.8,858.1 L476.1,857.8 L477.4,857.6 L478.8,857.5 L480.1,857.4 L481.4,857.3 L482.8,857.3 L484.1,857.4 L485.5,857.5 L486.9,857.7 L488.2,858.0 L489.6,858.4 L491.0,858.9 L492.3,859.5 L493.7,860.2 L495.0,861.0 L496.3,861.9 L497.5,862.9 L498.7,864.0 L499.9,865.2 L501.0,866.5" fill="none" stroke="#000" stroke-width="1.15"/><path d="M296.85 874.95 A3.50 3.50 0 0 1 302.39 870.67 Z" fill="#fff" stroke="none"/><path d="M296.85 874.95 A3.50 3.50 0 0 1 302.39 870.67" fill="none" stroke="#000" stroke-width="1.15"/><polygon points="315.5,875.5 316.5,876.0 317.4,876.6 318.4,877.1 319.3,877.7 320.2,878.4 321.2,879.1 322.1,879.9 323.0,880.6 323.9,881.5 324.9,882.3 325.8,883.2 326.7,884.0 327.7,884.9 328.6,885.8 329.6,886.8 330.6,887.7 331.6,888.6 332.5,889.5 333.6,890.4 334.6,891.3 335.6,892.1 336.7,893.0 337.8,893.8 338.9,894.6 340.1,895.3 341.3,896.0 342.5,896.7 343.7,897.3 345.0,897.8 346.3,898.3 347.5,898.7 348.8,899.1 350.1,899.5 351.4,899.7 352.7,900.0 354.0,900.2 355.3,900.4 356.6,900.5 357.9,900.7 359.2,900.8 360.5,900.8 361.8,900.9 363.1,900.9 364.4,901.0 365.7,901.0 367.0,901.0 368.3,900.9 369.6,900.9 370.9,900.8 372.2,900.7 373.5,900.6 374.8,900.5 376.1,900.4 377.4,900.2 378.7,900.0 380.0,899.8 381.2,899.6 382.5,899.4 383.8,899.2 385.1,898.9 386.4,898.6 387.7,898.3 388.9,898.0 390.2,897.7 391.5,897.3 392.7,897.0 394.0,896.6 395.3,896.2 396.5,895.8 397.8,895.4 399.0,894.9 400.3,894.4 401.5,894.0 402.7,893.5 404.0,893.0 405.2,892.4 406.4,891.9 407.6,891.3 408.8,890.7 410.0,890.1 411.2,889.5 412.4,888.9 413.6,888.3 414.7,887.7 415.9,887.0 417.1,886.4 418.2,885.7 419.4,885.0 420.5,884.4 421.6,883.7 422.8,883.0 423.9,882.3 425.0,881.6 426.2,881.0 427.3,880.3 428.4,879.6 429.5,878.9 430.6,878.2 431.7,877.5 432.8,876.9 433.9,876.2 435.0,875.5 436.1,874.9 437.2,874.2 438.3,873.6 439.4,872.9 440.5,872.3 441.5,871.7 442.6,871.1 443.7,870.5 444.8,869.9 445.9,869.4 447.0,868.8 448.0,868.3 449.1,867.8 450.2,867.3 451.3,866.8 452.3,866.3 453.4,865.9 454.5,865.4 455.6,865.0 456.7,864.7 457.7,864.3 458.8,864.0 459.9,863.6 461.0,863.3 462.1,863.1 463.2,862.8 464.2,862.6 465.3,862.4 466.4,862.3 467.5,862.1 468.6,862.0 469.7,862.0 470.8,861.9 471.9,861.9 473.1,861.9 474.2,862.0 475.3,862.0 476.4,862.2 477.6,862.3 478.7,862.5 479.9,862.7 481.0,863.0 482.1,863.3 483.3,863.6 484.4,864.0 485.4,864.4 486.5,864.9 487.5,865.4 488.5,865.9 489.4,866.5 490.4,867.1 491.2,867.8 492.1,868.6 492.9,869.4 493.6,870.2 494.4,871.2 499.9,866.9 499.0,865.7 497.9,864.5 496.8,863.4 495.7,862.4 494.5,861.5 493.3,860.7 492.0,859.9 490.7,859.2 489.4,858.5 488.1,857.9 486.8,857.4 485.4,856.9 484.0,856.5 482.7,856.2 481.3,855.9 480.0,855.6 478.6,855.4 477.3,855.2 475.9,855.1 474.6,855.0 473.3,854.9 471.9,854.9 470.6,854.9 469.3,855.0 468.1,855.1 466.8,855.2 465.5,855.3 464.2,855.5 463.0,855.7 461.7,856.0 460.5,856.3 459.2,856.6 458.0,856.9 456.8,857.3 455.6,857.6 454.4,858.0 453.2,858.5 452.0,858.9 450.8,859.4 449.6,859.9 448.5,860.4 447.3,860.9 446.1,861.4 445.0,862.0 443.8,862.6 442.7,863.1 441.5,863.7 440.4,864.3 439.3,865.0 438.1,865.6 437.0,866.2 435.9,866.9 434.7,867.5 433.6,868.2 432.5,868.9 431.4,869.5 430.3,870.2 429.2,870.9 428.0,871.6 426.9,872.3 425.8,872.9 424.7,873.6 423.6,874.3 422.5,875.0 421.4,875.7 420.3,876.3 419.2,877.0 418.1,877.7 416.9,878.3 415.8,879.0 414.7,879.6 413.6,880.3 412.5,880.9 411.4,881.5 410.3,882.1 409.1,882.7 408.0,883.3 406.9,883.9 405.8,884.4 404.6,885.0 403.5,885.5 402.4,886.0 401.2,886.5 400.1,887.0 398.9,887.5 397.8,887.9 396.6,888.3 395.5,888.8 394.3,889.2 393.1,889.5 392.0,889.9 390.8,890.3 389.6,890.6 388.4,890.9 387.2,891.2 386.0,891.5 384.9,891.8 383.7,892.0 382.5,892.3 381.3,892.5 380.1,892.7 378.9,892.9 377.7,893.1 376.5,893.3 375.3,893.4 374.1,893.5 372.9,893.6 371.7,893.7 370.5,893.8 369.3,893.9 368.1,893.9 366.9,894.0 365.7,894.0 364.5,894.0 363.3,893.9 362.1,893.9 360.9,893.9 359.7,893.8 358.5,893.7 357.4,893.6 356.2,893.5 355.1,893.3 354.0,893.1 352.8,892.9 351.8,892.7 350.7,892.4 349.6,892.1 348.6,891.7 347.6,891.3 346.6,890.9 345.7,890.5 344.7,889.9 343.8,889.4 342.8,888.8 341.9,888.1 341.0,887.4 340.0,886.7 339.1,885.9 338.2,885.1 337.2,884.3 336.3,883.4 335.4,882.6 334.4,881.7 333.5,880.8 332.5,879.9 331.5,878.9 330.6,878.0 329.6,877.1 328.6,876.2 327.6,875.3 326.5,874.5 325.5,873.6 324.4,872.8 323.3,872.0 322.1,871.2 321.0,870.5 319.8,869.8 318.6,869.3" fill="#fff" stroke="none"/><path d="M315.5,875.5 L316.5,876.0 L317.4,876.6 L318.4,877.1 L319.3,877.7 L320.2,878.4 L321.2,879.1 L322.1,879.9 L323.0,880.6 L323.9,881.5 L324.9,882.3 L325.8,883.2 L326.7,884.0 L327.7,884.9 L328.6,885.8 L329.6,886.8 L330.6,887.7 L331.6,888.6 L332.5,889.5 L333.6,890.4 L334.6,891.3 L335.6,892.1 L336.7,893.0 L337.8,893.8 L338.9,894.6 L340.1,895.3 L341.3,896.0 L342.5,896.7 L343.7,897.3 L345.0,897.8 L346.3,898.3 L347.5,898.7 L348.8,899.1 L350.1,899.5 L351.4,899.7 L352.7,900.0 L354.0,900.2 L355.3,900.4 L356.6,900.5 L357.9,900.7 L359.2,900.8 L360.5,900.8 L361.8,900.9 L363.1,900.9 L364.4,901.0 L365.7,901.0 L367.0,901.0 L368.3,900.9 L369.6,900.9 L370.9,900.8 L372.2,900.7 L373.5,900.6 L374.8,900.5 L376.1,900.4 L377.4,900.2 L378.7,900.0 L380.0,899.8 L381.2,899.6 L382.5,899.4 L383.8,899.2 L385.1,898.9 L386.4,898.6 L387.7,898.3 L388.9,898.0 L390.2,897.7 L391.5,897.3 L392.7,897.0 L394.0,896.6 L395.3,896.2 L396.5,895.8 L397.8,895.4 L399.0,894.9 L400.3,894.4 L401.5,894.0 L402.7,893.5 L404.0,893.0 L405.2,892.4 L406.4,891.9 L407.6,891.3 L408.8,890.7 L410.0,890.1 L411.2,889.5 L412.4,888.9 L413.6,888.3 L414.7,887.7 L415.9,887.0 L417.1,886.4 L418.2,885.7 L419.4,885.0 L420.5,884.4 L421.6,883.7 L422.8,883.0 L423.9,882.3 L425.0,881.6 L426.2,881.0 L427.3,880.3 L428.4,879.6 L429.5,878.9 L430.6,878.2 L431.7,877.5 L432.8,876.9 L433.9,876.2 L435.0,875.5 L436.1,874.9 L437.2,874.2 L438.3,873.6 L439.4,872.9 L440.5,872.3 L441.5,871.7 L442.6,871.1 L443.7,870.5 L444.8,869.9 L445.9,869.4 L447.0,868.8 L448.0,868.3 L449.1,867.8 L450.2,867.3 L451.3,866.8 L452.3,866.3 L453.4,865.9 L454.5,865.4 L455.6,865.0 L456.7,864.7 L457.7,864.3 L458.8,864.0 L459.9,863.6 L461.0,863.3 L462.1,863.1 L463.2,862.8 L464.2,862.6 L465.3,862.4 L466.4,862.3 L467.5,862.1 L468.6,862.0 L469.7,862.0 L470.8,861.9 L471.9,861.9 L473.1,861.9 L474.2,862.0 L475.3,862.0 L476.4,862.2 L477.6,862.3 L478.7,862.5 L479.9,862.7 L481.0,863.0 L482.1,863.3 L483.3,863.6 L484.4,864.0 L485.4,864.4 L486.5,864.9 L487.5,865.4 L488.5,865.9 L489.4,866.5 L490.4,867.1 L491.2,867.8 L492.1,868.6 L492.9,869.4 L493.6,870.2 L494.4,871.2" fill="none" stroke="#000" stroke-width="1.15"/><path d="M318.6,869.3 L319.8,869.8 L321.0,870.5 L322.1,871.2 L323.3,872.0 L324.4,872.8 L325.5,873.6 L326.5,874.5 L327.6,875.3 L328.6,876.2 L329.6,877.1 L330.6,878.0 L331.5,878.9 L332.5,879.9 L333.5,880.8 L334.4,881.7 L335.4,882.6 L336.3,883.4 L337.2,884.3 L338.2,885.1 L339.1,885.9 L340.0,886.7 L341.0,887.4 L341.9,888.1 L342.8,888.8 L343.8,889.4 L344.7,889.9 L345.7,890.5 L346.6,890.9 L347.6,891.3 L348.6,891.7 L349.6,892.1 L350.7,892.4 L351.8,892.7 L352.8,892.9 L354.0,893.1 L355.1,893.3 L356.2,893.5 L357.4,893.6 L358.5,893.7 L359.7,893.8 L360.9,893.9 L362.1,893.9 L363.3,893.9 L364.5,894.0 L365.7,894.0 L366.9,894.0 L368.1,893.9 L369.3,893.9 L370.5,893.8 L371.7,893.7 L372.9,893.6 L374.1,893.5 L375.3,893.4 L376.5,893.3 L377.7,893.1 L378.9,892.9 L380.1,892.7 L381.3,892.5 L382.5,892.3 L383.7,892.0 L384.9,891.8 L386.0,891.5 L387.2,891.2 L388.4,890.9 L389.6,890.6 L390.8,890.3 L392.0,889.9 L393.1,889.5 L394.3,889.2 L395.5,888.8 L396.6,888.3 L397.8,887.9 L398.9,887.5 L400.1,887.0 L401.2,886.5 L402.4,886.0 L403.5,885.5 L404.6,885.0 L405.8,884.4 L406.9,883.9 L408.0,883.3 L409.1,882.7 L410.3,882.1 L411.4,881.5 L412.5,880.9 L413.6,880.3 L414.7,879.6 L415.8,879.0 L416.9,878.3 L418.1,877.7 L419.2,877.0 L420.3,876.3 L421.4,875.7 L422.5,875.0 L423.6,874.3 L424.7,873.6 L425.8,872.9 L426.9,872.3 L428.0,871.6 L429.2,870.9 L430.3,870.2 L431.4,869.5 L432.5,868.9 L433.6,868.2 L434.7,867.5 L435.9,866.9 L437.0,866.2 L438.1,865.6 L439.3,865.0 L440.4,864.3 L441.5,863.7 L442.7,863.1 L443.8,862.6 L445.0,862.0 L446.1,861.4 L447.3,860.9 L448.5,860.4 L449.6,859.9 L450.8,859.4 L452.0,858.9 L453.2,858.5 L454.4,858.0 L455.6,857.6 L456.8,857.3 L458.0,856.9 L459.2,856.6 L460.5,856.3 L461.7,856.0 L463.0,855.7 L464.2,855.5 L465.5,855.3 L466.8,855.2 L468.1,855.1 L469.3,855.0 L470.6,854.9 L471.9,854.9 L473.3,854.9 L474.6,855.0 L475.9,855.1 L477.3,855.2 L478.6,855.4 L480.0,855.6 L481.3,855.9 L482.7,856.2 L484.0,856.5 L485.4,856.9 L486.8,857.4 L488.1,857.9 L489.4,858.5 L490.7,859.2 L492.0,859.9 L493.3,860.7 L494.5,861.5 L495.7,862.4 L496.8,863.4 L497.9,864.5 L499.0,865.7 L499.9,866.9" fill="none" stroke="#000" stroke-width="1.15"/><path d="M315.49 875.54 A3.50 3.50 0 0 1 318.61 869.27 Z" fill="#fff" stroke="none"/><path d="M315.49 875.54 A3.50 3.50 0 0 1 318.61 869.27" fill="none" stroke="#000" stroke-width="1.15"/><rect x="484" y="869" width="30" height="6" fill="#fff"/><path d="M484 868.5H514 M484 875.5H514" stroke="#000" stroke-width="1" fill="none"/><polygon points="591.8,867.9 591.5,866.5 591.4,865.6 591.4,864.9 591.6,864.2 591.9,863.7 592.3,863.2 592.8,862.7 593.5,862.2 594.2,861.7 595.1,861.3 596.1,861.0 597.1,860.8 598.2,860.6 599.2,860.6 600.2,860.6 601.2,860.7 602.1,860.9 602.9,861.1 603.7,861.4 604.5,861.8 605.2,862.2 606.0,862.7 606.7,863.3 607.4,864.0 608.2,864.7 608.9,865.5 609.6,866.3 610.3,867.2 610.9,868.2 611.6,869.2 612.3,870.3 613.0,871.4 613.6,872.5 614.3,873.7 615.0,874.9 615.6,876.1 616.3,877.3 617.0,878.5 617.7,879.8 618.4,881.0 619.2,882.3 620.0,883.5 620.8,884.7 621.7,885.8 622.6,886.9 623.6,888.0 624.7,888.9 625.9,889.8 627.2,890.6 628.6,891.3 630.0,891.8 631.6,892.1 633.2,892.2 634.9,892.1 636.5,891.8 638.2,891.3 639.8,890.6 641.3,889.5 642.6,888.2 643.7,886.8 644.5,885.2 645.2,883.6 645.6,882.0 646.0,880.3 646.1,878.7 646.2,877.0 646.1,875.4 645.9,873.8 645.6,872.3 645.3,871.0 638.5,872.9 638.8,873.9 639.0,874.9 639.1,875.9 639.2,877.0 639.2,878.2 639.0,879.3 638.8,880.4 638.5,881.4 638.2,882.3 637.8,883.0 637.3,883.6 636.9,884.1 636.3,884.5 635.7,884.8 634.9,885.0 634.1,885.2 633.3,885.2 632.5,885.2 631.9,885.0 631.2,884.8 630.5,884.5 629.9,884.1 629.2,883.6 628.5,882.9 627.8,882.2 627.1,881.4 626.5,880.5 625.8,879.6 625.1,878.5 624.4,877.4 623.8,876.3 623.1,875.1 622.4,873.9 621.8,872.7 621.1,871.5 620.4,870.2 619.7,869.0 619.0,867.8 618.2,866.6 617.5,865.4 616.7,864.2 615.9,863.1 615.1,862.0 614.2,860.9 613.3,859.9 612.3,858.9 611.2,858.0 610.1,857.1 609.0,856.3 607.8,855.6 606.5,855.0 605.1,854.4 603.7,854.0 602.2,853.8 600.6,853.6 599.1,853.6 597.5,853.7 595.9,853.9 594.2,854.3 592.7,854.8 591.1,855.5 589.6,856.3 588.2,857.3 587.0,858.6 585.9,860.1 585.1,861.8 584.6,863.6 584.4,865.6 584.6,867.7 585.0,869.6" fill="#fff" stroke="none"/><path d="M591.8,867.9 L591.5,866.5 L591.4,865.6 L591.4,864.9 L591.6,864.2 L591.9,863.7 L592.3,863.2 L592.8,862.7 L593.5,862.2 L594.2,861.7 L595.1,861.3 L596.1,861.0 L597.1,860.8 L598.2,860.6 L599.2,860.6 L600.2,860.6 L601.2,860.7 L602.1,860.9 L602.9,861.1 L603.7,861.4 L604.5,861.8 L605.2,862.2 L606.0,862.7 L606.7,863.3 L607.4,864.0 L608.2,864.7 L608.9,865.5 L609.6,866.3 L610.3,867.2 L610.9,868.2 L611.6,869.2 L612.3,870.3 L613.0,871.4 L613.6,872.5 L614.3,873.7 L615.0,874.9 L615.6,876.1 L616.3,877.3 L617.0,878.5 L617.7,879.8 L618.4,881.0 L619.2,882.3 L620.0,883.5 L620.8,884.7 L621.7,885.8 L622.6,886.9 L623.6,888.0 L624.7,888.9 L625.9,889.8 L627.2,890.6 L628.6,891.3 L630.0,891.8 L631.6,892.1 L633.2,892.2 L634.9,892.1 L636.5,891.8 L638.2,891.3 L639.8,890.6 L641.3,889.5 L642.6,888.2 L643.7,886.8 L644.5,885.2 L645.2,883.6 L645.6,882.0 L646.0,880.3 L646.1,878.7 L646.2,877.0 L646.1,875.4 L645.9,873.8 L645.6,872.3 L645.3,871.0" fill="none" stroke="#000" stroke-width="1.15"/><path d="M585.0,869.6 L584.6,867.7 L584.4,865.6 L584.6,863.6 L585.1,861.8 L585.9,860.1 L587.0,858.6 L588.2,857.3 L589.6,856.3 L591.1,855.5 L592.7,854.8 L594.2,854.3 L595.9,853.9 L597.5,853.7 L599.1,853.6 L600.6,853.6 L602.2,853.8 L603.7,854.0 L605.1,854.4 L606.5,855.0 L607.8,855.6 L609.0,856.3 L610.1,857.1 L611.2,858.0 L612.3,858.9 L613.3,859.9 L614.2,860.9 L615.1,862.0 L615.9,863.1 L616.7,864.2 L617.5,865.4 L618.2,866.6 L619.0,867.8 L619.7,869.0 L620.4,870.2 L621.1,871.5 L621.8,872.7 L622.4,873.9 L623.1,875.1 L623.8,876.3 L624.4,877.4 L625.1,878.5 L625.8,879.6 L626.5,880.5 L627.1,881.4 L627.8,882.2 L628.5,882.9 L629.2,883.6 L629.9,884.1 L630.5,884.5 L631.2,884.8 L631.9,885.0 L632.5,885.2 L633.3,885.2 L634.1,885.2 L634.9,885.0 L635.7,884.8 L636.3,884.5 L636.9,884.1 L637.3,883.6 L637.8,883.0 L638.2,882.3 L638.5,881.4 L638.8,880.4 L639.0,879.3 L639.2,878.2 L639.2,877.0 L639.1,875.9 L639.0,874.9 L638.8,873.9 L638.5,872.9" fill="none" stroke="#000" stroke-width="1.15"/><path d="M645.28 870.99 A3.50 3.50 0 0 0 638.55 872.91 Z" fill="#fff" stroke="none"/><path d="M645.28 870.99 A3.50 3.50 0 0 0 638.55 872.91" fill="none" stroke="#000" stroke-width="1.15"/><polygon points="604.4,869.0 604.5,867.8 604.7,866.8 605.0,866.0 605.4,865.2 605.9,864.4 606.4,863.8 607.1,863.1 607.9,862.6 608.8,862.1 609.7,861.6 610.6,861.3 611.6,861.0 612.6,860.8 613.6,860.7 614.5,860.7 615.4,860.7 616.2,860.9 617.0,861.1 617.7,861.3 618.4,861.7 619.1,862.1 619.8,862.6 620.5,863.2 621.2,863.8 621.8,864.5 622.5,865.4 623.2,866.2 623.8,867.2 624.5,868.1 625.2,869.2 625.9,870.3 626.5,871.4 627.2,872.5 627.9,873.7 628.6,874.9 629.3,876.1 630.1,877.3 630.8,878.5 631.6,879.8 632.5,880.9 633.4,882.1 634.3,883.3 635.3,884.4 636.3,885.5 637.3,886.5 638.4,887.4 639.6,888.3 640.8,889.1 642.0,889.9 643.3,890.6 644.5,891.2 645.9,891.7 647.2,892.0 648.6,892.3 650.0,892.5 651.5,892.6 652.9,892.5 654.4,892.2 655.8,891.8 657.2,891.3 658.6,890.6 659.9,889.8 661.1,888.9 662.3,887.9 663.4,886.7 664.4,885.5 665.3,884.2 666.1,882.7 666.8,881.2 667.4,879.6 667.8,878.0 668.0,876.2 668.0,874.5 667.8,872.6 667.5,871.0 660.7,872.4 660.9,873.7 661.0,874.7 661.0,875.7 660.9,876.7 660.6,877.7 660.3,878.7 659.9,879.6 659.4,880.5 658.8,881.3 658.2,882.1 657.5,882.8 656.7,883.5 656.0,884.0 655.2,884.5 654.4,884.9 653.7,885.2 652.9,885.4 652.1,885.5 651.4,885.6 650.6,885.5 649.8,885.4 648.9,885.3 648.1,885.0 647.2,884.7 646.4,884.3 645.5,883.8 644.6,883.3 643.8,882.7 642.9,882.0 642.0,881.3 641.2,880.5 640.4,879.7 639.6,878.8 638.9,877.8 638.1,876.8 637.4,875.8 636.7,874.7 636.0,873.6 635.3,872.5 634.6,871.3 633.9,870.2 633.2,869.0 632.5,867.8 631.8,866.6 631.1,865.5 630.4,864.3 629.6,863.2 628.8,862.0 628.0,861.0 627.1,859.9 626.1,858.9 625.2,858.0 624.1,857.1 623.0,856.2 621.8,855.5 620.5,854.9 619.1,854.4 617.7,854.0 616.2,853.8 614.6,853.7 613.1,853.7 611.5,853.9 610.0,854.2 608.4,854.6 606.9,855.2 605.4,855.9 604.0,856.7 602.7,857.7 601.4,858.9 600.3,860.2 599.3,861.6 598.5,863.2 597.9,865.0 597.5,866.8 597.4,868.6" fill="#fff" stroke="none"/><path d="M604.4,869.0 L604.5,867.8 L604.7,866.8 L605.0,866.0 L605.4,865.2 L605.9,864.4 L606.4,863.8 L607.1,863.1 L607.9,862.6 L608.8,862.1 L609.7,861.6 L610.6,861.3 L611.6,861.0 L612.6,860.8 L613.6,860.7 L614.5,860.7 L615.4,860.7 L616.2,860.9 L617.0,861.1 L617.7,861.3 L618.4,861.7 L619.1,862.1 L619.8,862.6 L620.5,863.2 L621.2,863.8 L621.8,864.5 L622.5,865.4 L623.2,866.2 L623.8,867.2 L624.5,868.1 L625.2,869.2 L625.9,870.3 L626.5,871.4 L627.2,872.5 L627.9,873.7 L628.6,874.9 L629.3,876.1 L630.1,877.3 L630.8,878.5 L631.6,879.8 L632.5,880.9 L633.4,882.1 L634.3,883.3 L635.3,884.4 L636.3,885.5 L637.3,886.5 L638.4,887.4 L639.6,888.3 L640.8,889.1 L642.0,889.9 L643.3,890.6 L644.5,891.2 L645.9,891.7 L647.2,892.0 L648.6,892.3 L650.0,892.5 L651.5,892.6 L652.9,892.5 L654.4,892.2 L655.8,891.8 L657.2,891.3 L658.6,890.6 L659.9,889.8 L661.1,888.9 L662.3,887.9 L663.4,886.7 L664.4,885.5 L665.3,884.2 L666.1,882.7 L666.8,881.2 L667.4,879.6 L667.8,878.0 L668.0,876.2 L668.0,874.5 L667.8,872.6 L667.5,871.0" fill="none" stroke="#000" stroke-width="1.15"/><path d="M597.4,868.6 L597.5,866.8 L597.9,865.0 L598.5,863.2 L599.3,861.6 L600.3,860.2 L601.4,858.9 L602.7,857.7 L604.0,856.7 L605.4,855.9 L606.9,855.2 L608.4,854.6 L610.0,854.2 L611.5,853.9 L613.1,853.7 L614.6,853.7 L616.2,853.8 L617.7,854.0 L619.1,854.4 L620.5,854.9 L621.8,855.5 L623.0,856.2 L624.1,857.1 L625.2,858.0 L626.1,858.9 L627.1,859.9 L628.0,861.0 L628.8,862.0 L629.6,863.2 L630.4,864.3 L631.1,865.5 L631.8,866.6 L632.5,867.8 L633.2,869.0 L633.9,870.2 L634.6,871.3 L635.3,872.5 L636.0,873.6 L636.7,874.7 L637.4,875.8 L638.1,876.8 L638.9,877.8 L639.6,878.8 L640.4,879.7 L641.2,880.5 L642.0,881.3 L642.9,882.0 L643.8,882.7 L644.6,883.3 L645.5,883.8 L646.4,884.3 L647.2,884.7 L648.1,885.0 L648.9,885.3 L649.8,885.4 L650.6,885.5 L651.4,885.6 L652.1,885.5 L652.9,885.4 L653.7,885.2 L654.4,884.9 L655.2,884.5 L656.0,884.0 L656.7,883.5 L657.5,882.8 L658.2,882.1 L658.8,881.3 L659.4,880.5 L659.9,879.6 L660.3,878.7 L660.6,877.7 L660.9,876.7 L661.0,875.7 L661.0,874.7 L660.9,873.7 L660.7,872.4" fill="none" stroke="#000" stroke-width="1.15"/><path d="M667.51 871.01 A3.50 3.50 0 0 0 660.66 872.43 Z" fill="#fff" stroke="none"/><path d="M667.51 871.01 A3.50 3.50 0 0 0 660.66 872.43" fill="none" stroke="#000" stroke-width="1.15"/><path d="M580 868.5H609" fill="none" stroke="#000" stroke-width="1"/><path d="M500.5 862.5 V876" fill="none" stroke="#151515" stroke-width="1.5"/><circle cx="498.8" cy="860.9" r="2" fill="#fff" stroke="#151515" stroke-width="1.2"/><circle cx="497.8" cy="877.6" r="2" fill="#fff" stroke="#151515" stroke-width="1.2"/>

  <!-- 533 -->
  <path class="l" d="M399.5 856.5V1093.5 M399.5 856.5H430.5"/>
  <path class="a" d="M399.5 857.5l-1.3 5 1.3 4 1.3 -4z M399.5 1092.5l-1.3 -5 1.3 -4 1.3 4z"/>
  <text transform="translate(397.8 975) rotate(-90)" text-anchor="middle" textLength="42" lengthAdjust="spacingAndGlyphs">533mm</text>

  <!-- 1250 -->
  <path class="l" d="M167.5 880.5V1119.5 M722.5 887.5V1119.5 M167.5 1119.5H722.5"/>
  <path class="a" d="M168.5 1119.5l5 -1.3 4 1.3 -4 1.3z M721.5 1119.5l-5 -1.3 -4 1.3 4 1.3z"/>
  <text x="420.2" y="1117.5" textLength="47.1" lengthAdjust="spacingAndGlyphs">1250mm</text>
</g>
</svg>
</body></html>
